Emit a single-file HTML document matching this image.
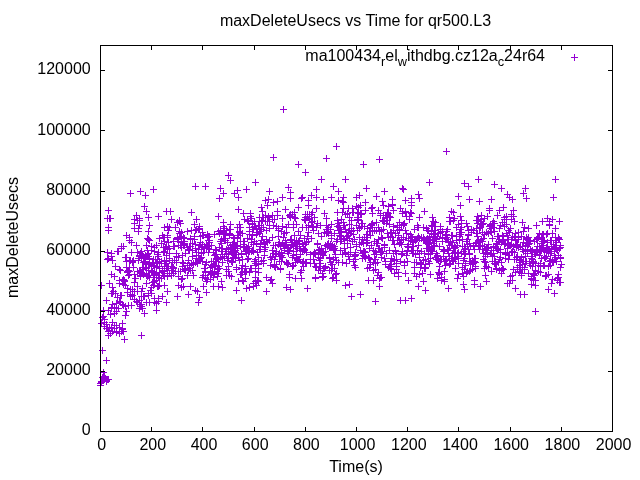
<!DOCTYPE html><html><head><meta charset="utf-8"><title>plot</title><style>html,body{margin:0;padding:0;background:#fff}body{width:640px;height:480px;overflow:hidden}</style></head><body><svg width="640" height="480" viewBox="0 0 640 480" style="display:block">
<rect width="640" height="480" fill="#fff"/>
<path d="M192.0 186.5h7M195.5 183.0v7M202.0 186.5h7M205.5 183.0v7M225.0 175.5h7M228.5 172.0v7M227.0 180.5h7M230.5 177.0v7M217.0 188.5h7M220.5 185.0v7M220.0 193.5h7M223.5 190.0v7M216.0 198.5h7M219.5 195.0v7M231.0 193.5h7M234.5 190.0v7M234.0 190.5h7M237.5 187.0v7M235.0 197.5h7M238.5 194.0v7M243.0 189.5h7M246.5 186.0v7M252.0 182.5h7M255.5 179.0v7M280.0 109.5h7M283.5 106.0v7M333.0 146.5h7M336.5 143.0v7M270.0 157.5h7M273.5 154.0v7M323.0 158.5h7M326.5 155.0v7M376.0 159.5h7M379.5 156.0v7M360.0 164.5h7M363.5 161.0v7M295.0 164.5h7M298.5 161.0v7M302.0 172.5h7M305.5 169.0v7M318.0 179.5h7M321.5 176.0v7M342.0 179.5h7M345.5 176.0v7M285.0 187.5h7M288.5 184.0v7M330.0 186.5h7M333.5 183.0v7M363.0 188.5h7M366.5 185.0v7M399.0 188.5h7M402.5 185.0v7M400.0 189.5h7M403.5 186.0v7M266.0 191.5h7M269.5 188.0v7M287.0 192.5h7M290.5 189.0v7M313.0 189.5h7M316.5 186.0v7M335.0 191.5h7M338.5 188.0v7M381.0 191.5h7M384.5 188.0v7M279.0 197.5h7M282.5 194.0v7M287.0 198.5h7M290.5 195.0v7M299.0 197.5h7M302.5 194.0v7M298.0 198.5h7M301.5 195.0v7M308.0 195.5h7M311.5 192.0v7M313.0 197.5h7M316.5 194.0v7M328.0 197.5h7M331.5 194.0v7M340.0 197.5h7M343.5 194.0v7M353.0 197.5h7M356.5 194.0v7M356.0 195.5h7M359.5 192.0v7M373.0 196.5h7M376.5 193.0v7M320.0 199.5h7M323.5 196.0v7M389.0 199.5h7M392.5 196.0v7M408.0 198.5h7M411.5 195.0v7M265.0 199.5h7M268.5 196.0v7M443.0 151.5h7M446.5 148.0v7M426.0 182.5h7M429.5 179.0v7M461.0 183.5h7M464.5 180.0v7M465.0 186.5h7M468.5 183.0v7M475.0 179.5h7M478.5 176.0v7M491.0 184.5h7M494.5 181.0v7M498.0 188.5h7M501.5 185.0v7M522.0 188.5h7M525.5 185.0v7M552.0 179.5h7M555.5 176.0v7M415.0 194.5h7M418.5 191.0v7M455.0 196.5h7M458.5 193.0v7M504.0 194.5h7M507.5 191.0v7M506.0 197.5h7M509.5 194.0v7M509.0 199.5h7M512.5 196.0v7M520.0 193.5h7M523.5 190.0v7M550.0 197.5h7M553.5 194.0v7M416.0 198.5h7M419.5 195.0v7M466.0 199.5h7M469.5 196.0v7M488.0 199.5h7M491.5 196.0v7M523.0 198.5h7M526.5 195.0v7M263.0 291.5h7M266.5 288.0v7M283.0 287.5h7M286.5 284.0v7M287.0 289.5h7M290.5 286.0v7M304.0 288.5h7M307.5 285.0v7M269.0 283.5h7M272.5 280.0v7M255.0 281.5h7M258.5 278.0v7M253.0 285.5h7M256.5 282.0v7M342.0 285.5h7M345.5 282.0v7M346.0 284.5h7M349.5 281.0v7M348.0 296.5h7M351.5 293.0v7M357.0 294.5h7M360.5 291.0v7M372.0 301.5h7M375.5 298.0v7M376.0 286.5h7M379.5 283.0v7M397.0 300.5h7M400.5 297.0v7M402.0 300.5h7M405.5 297.0v7M408.0 298.5h7M411.5 295.0v7M532.0 311.5h7M535.5 308.0v7M517.0 294.5h7M520.5 291.0v7M521.0 294.5h7M524.5 291.0v7M551.0 293.5h7M554.5 290.0v7M545.0 289.5h7M548.5 286.0v7M422.0 290.5h7M425.5 287.0v7M445.0 288.5h7M448.5 285.0v7M461.0 289.5h7M464.5 286.0v7M415.0 286.5h7M418.5 283.0v7M420.0 281.5h7M423.5 278.0v7M460.0 284.5h7M463.5 281.0v7M471.0 284.5h7M474.5 281.0v7M477.0 286.5h7M480.5 283.0v7M483.0 281.5h7M486.5 278.0v7M512.0 288.5h7M515.5 285.0v7M528.0 284.5h7M531.5 281.0v7M532.0 285.5h7M535.5 282.0v7M548.0 283.5h7M551.5 280.0v7M556.0 282.5h7M559.5 279.0v7M557.0 282.5h7M560.5 279.0v7M504.0 283.5h7M507.5 280.0v7M506.0 283.5h7M509.5 280.0v7M441.0 281.5h7M444.5 278.0v7M174.0 296.5h7M177.5 293.0v7M185.0 294.5h7M188.5 291.0v7M195.0 302.5h7M198.5 299.0v7M196.0 297.5h7M199.5 294.0v7M194.0 291.5h7M197.5 288.0v7M203.0 292.5h7M206.5 289.0v7M238.0 300.5h7M241.5 297.0v7M175.0 285.5h7M178.5 282.0v7M180.0 286.5h7M183.5 283.0v7M210.0 286.5h7M213.5 283.0v7M215.0 286.5h7M218.5 283.0v7M219.0 287.5h7M222.5 284.0v7M243.0 288.5h7M246.5 285.0v7M240.0 281.5h7M243.5 278.0v7M250.0 286.5h7M253.5 283.0v7M203.0 281.5h7M206.5 278.0v7M127.0 193.5h7M130.5 190.0v7M137.0 191.5h7M140.5 188.0v7M142.0 195.5h7M145.5 192.0v7M150.0 189.5h7M153.5 186.0v7M141.0 206.5h7M144.5 203.0v7M143.0 211.5h7M146.5 208.0v7M145.0 217.5h7M148.5 214.0v7M146.0 225.5h7M149.5 222.0v7M155.0 216.5h7M158.5 213.0v7M163.0 211.5h7M166.5 208.0v7M167.0 211.5h7M170.5 208.0v7M168.0 219.5h7M171.5 216.0v7M133.0 215.5h7M136.5 212.0v7M136.0 218.5h7M139.5 215.0v7M131.0 219.5h7M134.5 216.0v7M131.0 223.5h7M134.5 220.0v7M136.0 225.5h7M139.5 222.0v7M131.0 228.5h7M134.5 225.0v7M135.0 228.5h7M138.5 225.0v7M105.0 210.5h7M108.5 207.0v7M104.0 218.5h7M107.5 215.0v7M106.0 218.5h7M109.5 215.0v7M107.0 218.5h7M110.5 215.0v7M105.0 227.5h7M108.5 224.0v7M161.0 227.5h7M164.5 224.0v7M164.0 226.5h7M167.5 223.0v7M166.0 227.5h7M169.5 224.0v7M172.0 227.5h7M175.5 224.0v7M136.0 220.5h7M139.5 217.0v7M134.0 220.5h7M137.5 217.0v7M123.0 235.5h7M126.5 232.0v7M126.0 237.5h7M129.5 234.0v7M126.0 240.5h7M129.5 237.0v7M133.0 245.5h7M136.5 242.0v7M120.0 246.5h7M123.5 243.0v7M118.0 248.5h7M121.5 245.0v7M115.0 251.5h7M118.5 248.0v7M108.0 253.5h7M111.5 250.0v7M104.0 259.5h7M107.5 256.0v7M108.0 256.5h7M111.5 253.0v7M109.0 260.5h7M112.5 257.0v7M128.0 252.5h7M131.5 249.0v7M134.0 252.5h7M137.5 249.0v7M122.0 257.5h7M125.5 254.0v7M123.0 261.5h7M126.5 258.0v7M126.0 260.5h7M129.5 257.0v7M129.0 262.5h7M132.5 259.0v7M130.0 260.5h7M133.5 257.0v7M136.0 256.5h7M139.5 253.0v7M142.0 255.5h7M145.5 252.0v7M143.0 256.5h7M146.5 253.0v7M112.0 266.5h7M115.5 263.0v7M117.0 270.5h7M120.5 267.0v7M123.0 267.5h7M126.5 264.0v7M126.0 267.5h7M129.5 264.0v7M126.0 271.5h7M129.5 268.0v7M130.0 267.5h7M133.5 264.0v7M126.0 274.5h7M129.5 271.0v7M134.0 271.5h7M137.5 268.0v7M108.0 274.5h7M111.5 271.0v7M111.0 276.5h7M114.5 273.0v7M116.0 280.5h7M119.5 277.0v7M119.0 280.5h7M122.5 277.0v7M121.0 281.5h7M124.5 278.0v7M116.0 283.5h7M119.5 280.0v7M122.0 285.5h7M125.5 282.0v7M106.0 283.5h7M109.5 280.0v7M109.0 287.5h7M112.5 284.0v7M98.0 285.5h7M101.5 282.0v7M124.0 288.5h7M127.5 285.0v7M132.0 278.5h7M135.5 275.0v7M131.0 282.5h7M134.5 279.0v7M134.0 286.5h7M137.5 283.0v7M139.0 288.5h7M142.5 285.0v7M144.0 238.5h7M147.5 235.0v7M146.0 240.5h7M149.5 237.0v7M143.0 245.5h7M146.5 242.0v7M148.0 246.5h7M151.5 243.0v7M151.0 247.5h7M154.5 244.0v7M153.0 245.5h7M156.5 242.0v7M159.0 235.5h7M162.5 232.0v7M161.0 237.5h7M164.5 234.0v7M161.0 241.5h7M164.5 238.0v7M164.0 235.5h7M167.5 232.0v7M158.0 243.5h7M161.5 240.0v7M163.0 246.5h7M166.5 243.0v7M151.0 251.5h7M154.5 248.0v7M155.0 252.5h7M158.5 249.0v7M161.0 251.5h7M164.5 248.0v7M166.0 248.5h7M169.5 245.0v7M170.0 241.5h7M173.5 238.0v7M171.0 246.5h7M174.5 243.0v7M145.0 264.5h7M148.5 261.0v7M148.0 266.5h7M151.5 263.0v7M150.0 265.5h7M153.5 262.0v7M143.0 267.5h7M146.5 264.0v7M145.0 270.5h7M148.5 267.0v7M149.0 271.5h7M152.5 268.0v7M153.0 267.5h7M156.5 264.0v7M156.0 266.5h7M159.5 263.0v7M154.0 262.5h7M157.5 259.0v7M158.0 261.5h7M161.5 258.0v7M163.0 261.5h7M166.5 258.0v7M166.0 260.5h7M169.5 257.0v7M169.0 262.5h7M172.5 259.0v7M165.0 266.5h7M168.5 263.0v7M163.0 268.5h7M166.5 265.0v7M168.0 270.5h7M171.5 267.0v7M170.0 267.5h7M173.5 264.0v7M159.0 270.5h7M162.5 267.0v7M156.0 272.5h7M159.5 269.0v7M153.0 273.5h7M156.5 270.0v7M150.0 275.5h7M153.5 272.0v7M143.0 273.5h7M146.5 270.0v7M155.0 277.5h7M158.5 274.0v7M158.0 278.5h7M161.5 275.0v7M153.0 280.5h7M156.5 277.0v7M149.0 282.5h7M152.5 279.0v7M150.0 285.5h7M153.5 282.0v7M161.0 285.5h7M164.5 282.0v7M155.0 286.5h7M158.5 283.0v7M148.0 287.5h7M151.5 284.0v7M160.0 275.5h7M163.5 272.0v7M166.0 273.5h7M169.5 270.0v7M170.0 273.5h7M173.5 270.0v7M135.0 231.5h7M138.5 228.0v7M145.0 231.5h7M148.5 228.0v7M105.0 230.5h7M108.5 227.0v7M165.0 230.5h7M168.5 227.0v7M100.0 316.5h7M103.5 313.0v7M101.0 319.5h7M104.5 316.0v7M98.0 323.5h7M101.5 320.0v7M101.0 322.5h7M104.5 319.0v7M103.0 324.5h7M106.5 321.0v7M101.0 326.5h7M104.5 323.0v7M103.0 328.5h7M106.5 325.0v7M105.0 331.5h7M108.5 328.0v7M105.0 335.5h7M108.5 332.0v7M107.0 333.5h7M110.5 330.0v7M108.0 327.5h7M111.5 324.0v7M111.0 325.5h7M114.5 322.0v7M111.0 328.5h7M114.5 325.0v7M113.0 332.5h7M116.5 329.0v7M116.0 327.5h7M119.5 324.0v7M116.0 331.5h7M119.5 328.0v7M119.0 323.5h7M122.5 320.0v7M119.0 328.5h7M122.5 325.0v7M118.0 331.5h7M121.5 328.0v7M109.0 331.5h7M112.5 328.0v7M121.0 339.5h7M124.5 336.0v7M138.0 335.5h7M141.5 332.0v7M99.0 350.5h7M102.5 347.0v7M103.0 300.5h7M106.5 297.0v7M100.0 310.5h7M103.5 307.0v7M107.0 314.5h7M110.5 311.0v7M111.0 313.5h7M114.5 310.0v7M122.0 315.5h7M125.5 312.0v7M123.0 311.5h7M126.5 308.0v7M109.0 304.5h7M112.5 301.0v7M111.0 307.5h7M114.5 304.0v7M115.0 308.5h7M118.5 305.0v7M113.0 303.5h7M116.5 300.0v7M116.0 301.5h7M119.5 298.0v7M119.0 304.5h7M122.5 301.0v7M122.0 306.5h7M125.5 303.0v7M125.0 305.5h7M128.5 302.0v7M128.0 305.5h7M131.5 302.0v7M114.0 297.5h7M117.5 294.0v7M118.0 295.5h7M121.5 292.0v7M109.0 293.5h7M112.5 290.0v7M110.0 291.5h7M113.5 288.0v7M108.0 293.5h7M111.5 290.0v7M124.0 292.5h7M127.5 289.0v7M127.0 294.5h7M130.5 291.0v7M129.0 295.5h7M132.5 292.0v7M134.0 302.5h7M137.5 299.0v7M136.0 300.5h7M139.5 297.0v7M138.0 304.5h7M141.5 301.0v7M136.0 308.5h7M139.5 305.0v7M139.0 308.5h7M142.5 305.0v7M141.0 313.5h7M144.5 310.0v7M138.0 296.5h7M141.5 293.0v7M141.0 296.5h7M144.5 293.0v7M145.0 295.5h7M148.5 292.0v7M148.0 293.5h7M151.5 290.0v7M146.0 302.5h7M149.5 299.0v7M151.0 298.5h7M154.5 295.0v7M153.0 303.5h7M156.5 300.0v7M155.0 301.5h7M158.5 298.0v7M153.0 310.5h7M156.5 307.0v7M159.0 296.5h7M162.5 293.0v7M163.0 302.5h7M166.5 299.0v7M164.0 291.5h7M167.5 288.0v7M134.0 291.5h7M137.5 288.0v7M138.0 291.5h7M141.5 288.0v7M131.0 291.5h7M134.5 288.0v7M100.0 372.5h7M103.5 369.0v7M101.0 376.5h7M104.5 373.0v7M102.0 378.5h7M105.5 375.0v7M104.0 379.5h7M107.5 376.0v7M105.0 379.5h7M108.5 376.0v7M100.0 380.5h7M103.5 377.0v7M98.0 382.5h7M101.5 379.0v7M97.0 383.5h7M100.5 380.0v7M97.0 385.5h7M100.5 382.0v7M101.0 378.5h7M104.5 375.0v7M103.0 380.5h7M106.5 377.0v7M100.0 377.5h7M103.5 374.0v7M103.0 360.5h7M106.5 357.0v7M128.0 242.5h7M131.5 239.0v7M118.0 246.5h7M121.5 243.0v7M114.0 251.5h7M117.5 248.0v7M108.0 253.5h7M111.5 250.0v7M105.0 258.5h7M108.5 255.0v7M104.0 252.5h7M107.5 249.0v7M123.0 257.5h7M126.5 254.0v7M127.0 260.5h7M130.5 257.0v7M129.0 261.5h7M132.5 258.0v7M116.0 269.5h7M119.5 266.0v7M124.0 271.5h7M127.5 268.0v7M125.0 270.5h7M128.5 267.0v7M125.0 275.5h7M128.5 272.0v7M124.0 272.5h7M127.5 269.0v7M120.0 279.5h7M123.5 276.0v7M121.0 280.5h7M124.5 277.0v7M120.0 284.5h7M123.5 281.0v7M131.0 274.5h7M134.5 271.0v7M143.0 283.5h7M146.5 280.0v7M145.0 239.5h7M148.5 236.0v7M156.0 238.5h7M159.5 235.0v7M160.0 237.5h7M163.5 234.0v7M165.0 242.5h7M168.5 239.0v7M164.0 237.5h7M167.5 234.0v7M160.0 247.5h7M163.5 244.0v7M164.0 249.5h7M167.5 246.0v7M151.0 266.5h7M154.5 263.0v7M139.0 267.5h7M142.5 264.0v7M148.0 270.5h7M151.5 267.0v7M143.0 268.5h7M146.5 265.0v7M166.0 258.5h7M169.5 255.0v7M164.0 266.5h7M167.5 263.0v7M169.0 270.5h7M172.5 267.0v7M170.0 268.5h7M173.5 265.0v7M159.0 270.5h7M162.5 267.0v7M161.0 273.5h7M164.5 270.0v7M150.0 277.5h7M153.5 274.0v7M146.0 277.5h7M149.5 274.0v7M156.0 278.5h7M159.5 275.0v7M151.0 281.5h7M154.5 278.0v7M156.0 285.5h7M159.5 282.0v7M154.0 286.5h7M157.5 283.0v7M99.0 317.5h7M102.5 314.0v7M104.0 328.5h7M107.5 325.0v7M106.0 327.5h7M109.5 324.0v7M113.0 325.5h7M116.5 322.0v7M109.0 322.5h7M112.5 319.0v7M119.0 329.5h7M122.5 326.0v7M116.0 333.5h7M119.5 330.0v7M120.0 331.5h7M123.5 328.0v7M105.0 310.5h7M108.5 307.0v7M108.0 308.5h7M111.5 305.0v7M113.0 311.5h7M116.5 308.0v7M117.0 302.5h7M120.5 299.0v7M108.0 307.5h7M111.5 304.0v7M120.0 305.5h7M123.5 302.0v7M131.0 299.5h7M134.5 296.0v7M117.0 295.5h7M120.5 292.0v7M112.0 293.5h7M115.5 290.0v7M127.0 289.5h7M130.5 286.0v7M127.0 296.5h7M130.5 293.0v7M127.0 294.5h7M130.5 291.0v7M137.0 306.5h7M140.5 303.0v7M133.0 301.5h7M136.5 298.0v7M138.0 306.5h7M141.5 303.0v7M140.0 296.5h7M143.5 293.0v7M145.0 293.5h7M148.5 290.0v7M147.0 290.5h7M150.5 287.0v7M143.0 302.5h7M146.5 299.0v7M151.0 302.5h7M154.5 299.0v7M155.0 298.5h7M158.5 295.0v7M129.0 289.5h7M132.5 286.0v7M99.0 377.5h7M102.5 374.0v7M98.0 381.5h7M101.5 378.0v7M103.0 380.5h7M106.5 377.0v7M103.0 381.5h7M106.5 378.0v7M164.0 273.5h7M167.5 270.0v7M140.0 269.5h7M143.5 266.0v7M160.0 252.5h7M163.5 249.0v7M168.0 275.5h7M171.5 272.0v7M143.0 275.5h7M146.5 272.0v7M150.0 263.5h7M153.5 260.0v7M172.0 271.5h7M175.5 268.0v7M141.0 261.5h7M144.5 258.0v7M154.0 259.5h7M157.5 256.0v7M142.0 258.5h7M145.5 255.0v7M162.0 247.5h7M165.5 244.0v7M156.0 261.5h7M159.5 258.0v7M135.0 258.5h7M138.5 255.0v7M158.0 263.5h7M161.5 260.0v7M137.0 276.5h7M140.5 273.0v7M164.0 276.5h7M167.5 273.0v7M138.0 257.5h7M141.5 254.0v7M136.0 271.5h7M139.5 268.0v7M145.0 253.5h7M148.5 250.0v7M151.0 274.5h7M154.5 271.0v7M166.0 253.5h7M169.5 250.0v7M140.0 274.5h7M143.5 271.0v7M156.0 268.5h7M159.5 265.0v7M138.0 251.5h7M141.5 248.0v7M161.0 260.5h7M164.5 257.0v7M137.0 275.5h7M140.5 272.0v7M159.0 271.5h7M162.5 268.0v7M138.0 273.5h7M141.5 270.0v7M137.0 273.5h7M140.5 270.0v7M152.0 259.5h7M155.5 256.0v7M156.0 275.5h7M159.5 272.0v7M145.0 253.5h7M148.5 250.0v7M155.0 256.5h7M158.5 253.0v7M139.0 254.5h7M142.5 251.0v7M136.0 255.5h7M139.5 252.0v7M146.0 258.5h7M149.5 255.0v7M163.0 255.5h7M166.5 252.0v7M154.0 254.5h7M157.5 251.0v7M148.0 250.5h7M151.5 247.0v7M144.0 250.5h7M147.5 247.0v7M162.0 263.5h7M165.5 260.0v7M142.0 262.5h7M145.5 259.0v7M170.0 246.5h7M173.5 243.0v7M166.0 258.5h7M169.5 255.0v7M153.0 272.5h7M156.5 269.0v7M149.0 263.5h7M152.5 260.0v7M161.0 276.5h7M164.5 273.0v7M148.0 272.5h7M151.5 269.0v7M161.0 266.5h7M164.5 263.0v7M150.0 259.5h7M153.5 256.0v7M137.0 253.5h7M140.5 250.0v7M137.0 270.5h7M140.5 267.0v7M144.0 254.5h7M147.5 251.0v7M138.0 272.5h7M141.5 269.0v7M168.0 266.5h7M171.5 263.0v7M145.0 256.5h7M148.5 253.0v7M146.0 262.5h7M149.5 259.0v7M140.0 262.5h7M143.5 259.0v7M145.0 275.5h7M148.5 272.0v7M171.0 260.5h7M174.5 257.0v7M144.0 276.5h7M147.5 273.0v7M146.0 259.5h7M149.5 256.0v7M135.0 260.5h7M138.5 257.0v7M153.0 263.5h7M156.5 260.0v7M142.0 263.5h7M145.5 260.0v7M173.0 262.5h7M176.5 259.0v7M173.0 256.5h7M176.5 253.0v7M173.0 256.5h7M176.5 253.0v7M173.0 253.5h7M176.5 250.0v7M174.0 239.5h7M177.5 236.0v7M174.0 237.5h7M177.5 234.0v7M174.0 238.5h7M177.5 235.0v7M174.0 222.5h7M177.5 219.0v7M175.0 241.5h7M178.5 238.0v7M175.0 245.5h7M178.5 242.0v7M175.0 276.5h7M178.5 273.0v7M175.0 271.5h7M178.5 268.0v7M175.0 257.5h7M178.5 254.0v7M176.0 231.5h7M179.5 228.0v7M176.0 220.5h7M179.5 217.0v7M176.0 233.5h7M179.5 230.0v7M176.0 221.5h7M179.5 218.0v7M177.0 223.5h7M180.5 220.0v7M177.0 236.5h7M180.5 233.0v7M177.0 245.5h7M180.5 242.0v7M177.0 271.5h7M180.5 268.0v7M178.0 279.5h7M181.5 276.0v7M178.0 247.5h7M181.5 244.0v7M178.0 236.5h7M181.5 233.0v7M178.0 287.5h7M181.5 284.0v7M178.0 242.5h7M181.5 239.0v7M178.0 232.5h7M181.5 229.0v7M179.0 262.5h7M182.5 259.0v7M179.0 266.5h7M182.5 263.0v7M179.0 255.5h7M182.5 252.0v7M179.0 278.5h7M182.5 275.0v7M180.0 263.5h7M183.5 260.0v7M180.0 237.5h7M183.5 234.0v7M180.0 245.5h7M183.5 242.0v7M181.0 244.5h7M184.5 241.0v7M181.0 243.5h7M184.5 240.0v7M181.0 245.5h7M184.5 242.0v7M181.0 238.5h7M184.5 235.0v7M181.0 269.5h7M184.5 266.0v7M181.0 241.5h7M184.5 238.0v7M182.0 268.5h7M185.5 265.0v7M182.0 253.5h7M185.5 250.0v7M182.0 270.5h7M185.5 267.0v7M184.0 265.5h7M187.5 262.0v7M184.0 275.5h7M187.5 272.0v7M184.0 231.5h7M187.5 228.0v7M184.0 247.5h7M187.5 244.0v7M185.0 260.5h7M188.5 257.0v7M185.0 249.5h7M188.5 246.0v7M185.0 270.5h7M188.5 267.0v7M186.0 250.5h7M189.5 247.0v7M186.0 265.5h7M189.5 262.0v7M186.0 268.5h7M189.5 265.0v7M186.0 246.5h7M189.5 243.0v7M187.0 238.5h7M190.5 235.0v7M187.0 246.5h7M190.5 243.0v7M187.0 239.5h7M190.5 236.0v7M187.0 286.5h7M190.5 283.0v7M187.0 270.5h7M190.5 267.0v7M188.0 263.5h7M191.5 260.0v7M188.0 230.5h7M191.5 227.0v7M188.0 212.5h7M191.5 209.0v7M189.0 256.5h7M192.5 253.0v7M189.0 243.5h7M192.5 240.0v7M189.0 270.5h7M192.5 267.0v7M189.0 250.5h7M192.5 247.0v7M189.0 243.5h7M192.5 240.0v7M190.0 264.5h7M193.5 261.0v7M190.0 275.5h7M193.5 272.0v7M190.0 263.5h7M193.5 260.0v7M191.0 236.5h7M194.5 233.0v7M191.0 224.5h7M194.5 221.0v7M191.0 236.5h7M194.5 233.0v7M191.0 239.5h7M194.5 236.0v7M192.0 244.5h7M195.5 241.0v7M192.0 230.5h7M195.5 227.0v7M192.0 290.5h7M195.5 287.0v7M192.0 248.5h7M195.5 245.0v7M192.0 262.5h7M195.5 259.0v7M193.0 252.5h7M196.5 249.0v7M193.0 219.5h7M196.5 216.0v7M193.0 229.5h7M196.5 226.0v7M193.0 255.5h7M196.5 252.0v7M193.0 258.5h7M196.5 255.0v7M194.0 263.5h7M197.5 260.0v7M194.0 263.5h7M197.5 260.0v7M194.0 262.5h7M197.5 259.0v7M195.0 258.5h7M198.5 255.0v7M195.0 249.5h7M198.5 246.0v7M195.0 255.5h7M198.5 252.0v7M195.0 229.5h7M198.5 226.0v7M196.0 228.5h7M199.5 225.0v7M196.0 226.5h7M199.5 223.0v7M196.0 245.5h7M199.5 242.0v7M196.0 259.5h7M199.5 256.0v7M196.0 259.5h7M199.5 256.0v7M197.0 236.5h7M200.5 233.0v7M197.0 242.5h7M200.5 239.0v7M197.0 244.5h7M200.5 241.0v7M197.0 258.5h7M200.5 255.0v7M198.0 257.5h7M201.5 254.0v7M198.0 257.5h7M201.5 254.0v7M198.0 253.5h7M201.5 250.0v7M199.0 235.5h7M202.5 232.0v7M199.0 277.5h7M202.5 274.0v7M199.0 244.5h7M202.5 241.0v7M199.0 261.5h7M202.5 258.0v7M199.0 232.5h7M202.5 229.0v7M199.0 246.5h7M202.5 243.0v7M200.0 252.5h7M203.5 249.0v7M200.0 275.5h7M203.5 272.0v7M200.0 252.5h7M203.5 249.0v7M200.0 235.5h7M203.5 232.0v7M200.0 286.5h7M203.5 283.0v7M201.0 246.5h7M204.5 243.0v7M201.0 268.5h7M204.5 265.0v7M201.0 247.5h7M204.5 244.0v7M201.0 248.5h7M204.5 245.0v7M202.0 271.5h7M205.5 268.0v7M202.0 277.5h7M205.5 274.0v7M202.0 272.5h7M205.5 269.0v7M202.0 264.5h7M205.5 261.0v7M202.0 275.5h7M205.5 272.0v7M202.0 278.5h7M205.5 275.0v7M203.0 262.5h7M206.5 259.0v7M203.0 244.5h7M206.5 241.0v7M203.0 248.5h7M206.5 245.0v7M204.0 245.5h7M207.5 242.0v7M204.0 279.5h7M207.5 276.0v7M204.0 237.5h7M207.5 234.0v7M204.0 234.5h7M207.5 231.0v7M204.0 246.5h7M207.5 243.0v7M205.0 248.5h7M208.5 245.0v7M205.0 252.5h7M208.5 249.0v7M205.0 246.5h7M208.5 243.0v7M205.0 240.5h7M208.5 237.0v7M205.0 236.5h7M208.5 233.0v7M206.0 242.5h7M209.5 239.0v7M206.0 249.5h7M209.5 246.0v7M206.0 240.5h7M209.5 237.0v7M206.0 236.5h7M209.5 233.0v7M207.0 279.5h7M210.5 276.0v7M207.0 267.5h7M210.5 264.0v7M207.0 274.5h7M210.5 271.0v7M207.0 271.5h7M210.5 268.0v7M208.0 273.5h7M211.5 270.0v7M208.0 265.5h7M211.5 262.0v7M208.0 261.5h7M211.5 258.0v7M208.0 245.5h7M211.5 242.0v7M209.0 266.5h7M212.5 263.0v7M209.0 272.5h7M212.5 269.0v7M210.0 277.5h7M213.5 274.0v7M210.0 252.5h7M213.5 249.0v7M210.0 261.5h7M213.5 258.0v7M210.0 274.5h7M213.5 271.0v7M211.0 234.5h7M214.5 231.0v7M211.0 272.5h7M214.5 269.0v7M211.0 265.5h7M214.5 262.0v7M211.0 271.5h7M214.5 268.0v7M211.0 255.5h7M214.5 252.0v7M212.0 254.5h7M215.5 251.0v7M212.0 261.5h7M215.5 258.0v7M212.0 249.5h7M215.5 246.0v7M212.0 266.5h7M215.5 263.0v7M213.0 261.5h7M216.5 258.0v7M213.0 259.5h7M216.5 256.0v7M213.0 254.5h7M216.5 251.0v7M213.0 250.5h7M216.5 247.0v7M214.0 276.5h7M217.5 273.0v7M214.0 257.5h7M217.5 254.0v7M214.0 269.5h7M217.5 266.0v7M215.0 266.5h7M218.5 263.0v7M215.0 259.5h7M218.5 256.0v7M215.0 231.5h7M218.5 228.0v7M215.0 273.5h7M218.5 270.0v7M215.0 216.5h7M218.5 213.0v7M216.0 268.5h7M219.5 265.0v7M216.0 247.5h7M219.5 244.0v7M216.0 233.5h7M219.5 230.0v7M216.0 247.5h7M219.5 244.0v7M217.0 257.5h7M220.5 254.0v7M217.0 230.5h7M220.5 227.0v7M217.0 230.5h7M220.5 227.0v7M217.0 231.5h7M220.5 228.0v7M217.0 241.5h7M220.5 238.0v7M218.0 239.5h7M221.5 236.0v7M218.0 243.5h7M221.5 240.0v7M218.0 281.5h7M221.5 278.0v7M218.0 251.5h7M221.5 248.0v7M219.0 262.5h7M222.5 259.0v7M219.0 254.5h7M222.5 251.0v7M219.0 258.5h7M222.5 255.0v7M219.0 248.5h7M222.5 245.0v7M220.0 234.5h7M223.5 231.0v7M220.0 226.5h7M223.5 223.0v7M220.0 222.5h7M223.5 219.0v7M220.0 232.5h7M223.5 229.0v7M220.0 234.5h7M223.5 231.0v7M221.0 228.5h7M224.5 225.0v7M221.0 233.5h7M224.5 230.0v7M221.0 240.5h7M224.5 237.0v7M221.0 256.5h7M224.5 253.0v7M222.0 240.5h7M225.5 237.0v7M222.0 238.5h7M225.5 235.0v7M222.0 233.5h7M225.5 230.0v7M222.0 240.5h7M225.5 237.0v7M222.0 251.5h7M225.5 248.0v7M223.0 249.5h7M226.5 246.0v7M223.0 269.5h7M226.5 266.0v7M223.0 275.5h7M226.5 272.0v7M223.0 230.5h7M226.5 227.0v7M223.0 254.5h7M226.5 251.0v7M224.0 260.5h7M227.5 257.0v7M224.0 242.5h7M227.5 239.0v7M225.0 248.5h7M228.5 245.0v7M225.0 266.5h7M228.5 263.0v7M225.0 271.5h7M228.5 268.0v7M225.0 253.5h7M228.5 250.0v7M225.0 258.5h7M228.5 255.0v7M226.0 235.5h7M229.5 232.0v7M226.0 229.5h7M229.5 226.0v7M226.0 275.5h7M229.5 272.0v7M226.0 234.5h7M229.5 231.0v7M226.0 233.5h7M229.5 230.0v7M227.0 245.5h7M230.5 242.0v7M227.0 229.5h7M230.5 226.0v7M227.0 224.5h7M230.5 221.0v7M227.0 247.5h7M230.5 244.0v7M228.0 261.5h7M231.5 258.0v7M228.0 276.5h7M231.5 273.0v7M228.0 247.5h7M231.5 244.0v7M228.0 252.5h7M231.5 249.0v7M229.0 244.5h7M232.5 241.0v7M229.0 262.5h7M232.5 259.0v7M229.0 254.5h7M232.5 251.0v7M229.0 251.5h7M232.5 248.0v7M230.0 251.5h7M233.5 248.0v7M230.0 257.5h7M233.5 254.0v7M230.0 237.5h7M233.5 234.0v7M230.0 244.5h7M233.5 241.0v7M231.0 247.5h7M234.5 244.0v7M231.0 254.5h7M234.5 251.0v7M231.0 246.5h7M234.5 243.0v7M231.0 238.5h7M234.5 235.0v7M231.0 242.5h7M234.5 239.0v7M232.0 252.5h7M235.5 249.0v7M232.0 246.5h7M235.5 243.0v7M232.0 258.5h7M235.5 255.0v7M232.0 250.5h7M235.5 247.0v7M233.0 267.5h7M236.5 264.0v7M233.0 290.5h7M236.5 287.0v7M233.0 254.5h7M236.5 251.0v7M233.0 269.5h7M236.5 266.0v7M233.0 245.5h7M236.5 242.0v7M234.0 248.5h7M237.5 245.0v7M234.0 237.5h7M237.5 234.0v7M234.0 246.5h7M237.5 243.0v7M234.0 238.5h7M237.5 235.0v7M234.0 227.5h7M237.5 224.0v7M235.0 235.5h7M238.5 232.0v7M235.0 235.5h7M238.5 232.0v7M235.0 281.5h7M238.5 278.0v7M235.0 209.5h7M238.5 206.0v7M235.0 257.5h7M238.5 254.0v7M236.0 260.5h7M239.5 257.0v7M236.0 231.5h7M239.5 228.0v7M236.0 232.5h7M239.5 229.0v7M236.0 224.5h7M239.5 221.0v7M237.0 227.5h7M240.5 224.0v7M237.0 233.5h7M240.5 230.0v7M237.0 241.5h7M240.5 238.0v7M237.0 246.5h7M240.5 243.0v7M237.0 274.5h7M240.5 271.0v7M238.0 268.5h7M241.5 265.0v7M238.0 274.5h7M241.5 271.0v7M238.0 254.5h7M241.5 251.0v7M238.0 253.5h7M241.5 250.0v7M239.0 272.5h7M242.5 269.0v7M239.0 265.5h7M242.5 262.0v7M239.0 259.5h7M242.5 256.0v7M239.0 280.5h7M242.5 277.0v7M239.0 233.5h7M242.5 230.0v7M240.0 247.5h7M243.5 244.0v7M240.0 244.5h7M243.5 241.0v7M240.0 241.5h7M243.5 238.0v7M240.0 213.5h7M243.5 210.0v7M241.0 219.5h7M244.5 216.0v7M241.0 247.5h7M244.5 244.0v7M241.0 271.5h7M244.5 268.0v7M241.0 241.5h7M244.5 238.0v7M242.0 266.5h7M245.5 263.0v7M242.0 251.5h7M245.5 248.0v7M242.0 278.5h7M245.5 275.0v7M242.0 272.5h7M245.5 269.0v7M243.0 253.5h7M246.5 250.0v7M243.0 247.5h7M246.5 244.0v7M243.0 250.5h7M246.5 247.0v7M243.0 271.5h7M246.5 268.0v7M243.0 248.5h7M246.5 245.0v7M244.0 248.5h7M247.5 245.0v7M244.0 238.5h7M247.5 235.0v7M244.0 220.5h7M247.5 217.0v7M244.0 259.5h7M247.5 256.0v7M245.0 258.5h7M248.5 255.0v7M245.0 246.5h7M248.5 243.0v7M245.0 221.5h7M248.5 218.0v7M245.0 252.5h7M248.5 249.0v7M246.0 234.5h7M249.5 231.0v7M246.0 231.5h7M249.5 228.0v7M246.0 251.5h7M249.5 248.0v7M246.0 287.5h7M249.5 284.0v7M246.0 272.5h7M249.5 269.0v7M246.0 227.5h7M249.5 224.0v7M247.0 213.5h7M250.5 210.0v7M247.0 268.5h7M250.5 265.0v7M247.0 216.5h7M250.5 213.0v7M247.0 216.5h7M250.5 213.0v7M248.0 218.5h7M251.5 215.0v7M248.0 239.5h7M251.5 236.0v7M248.0 251.5h7M251.5 248.0v7M248.0 268.5h7M251.5 265.0v7M248.0 242.5h7M251.5 239.0v7M249.0 250.5h7M252.5 247.0v7M249.0 227.5h7M252.5 224.0v7M249.0 223.5h7M252.5 220.0v7M249.0 224.5h7M252.5 221.0v7M249.0 235.5h7M252.5 232.0v7M250.0 244.5h7M253.5 241.0v7M250.0 251.5h7M253.5 248.0v7M250.0 251.5h7M253.5 248.0v7M250.0 229.5h7M253.5 226.0v7M250.0 283.5h7M253.5 280.0v7M251.0 221.5h7M254.5 218.0v7M251.0 226.5h7M254.5 223.0v7M251.0 261.5h7M254.5 258.0v7M251.0 241.5h7M254.5 238.0v7M252.0 263.5h7M255.5 260.0v7M252.0 259.5h7M255.5 256.0v7M252.0 277.5h7M255.5 274.0v7M252.0 281.5h7M255.5 278.0v7M252.0 271.5h7M255.5 268.0v7M252.0 265.5h7M255.5 262.0v7M253.0 263.5h7M256.5 260.0v7M253.0 228.5h7M256.5 225.0v7M253.0 234.5h7M256.5 231.0v7M253.0 243.5h7M256.5 240.0v7M254.0 232.5h7M257.5 229.0v7M254.0 232.5h7M257.5 229.0v7M254.0 252.5h7M257.5 249.0v7M254.0 280.5h7M257.5 277.0v7M255.0 272.5h7M258.5 269.0v7M255.0 264.5h7M258.5 261.0v7M255.0 225.5h7M258.5 222.0v7M255.0 268.5h7M258.5 265.0v7M255.0 257.5h7M258.5 254.0v7M256.0 249.5h7M259.5 246.0v7M256.0 225.5h7M259.5 222.0v7M256.0 233.5h7M259.5 230.0v7M256.0 217.5h7M259.5 214.0v7M257.0 231.5h7M260.5 228.0v7M257.0 246.5h7M260.5 243.0v7M257.0 244.5h7M260.5 241.0v7M257.0 249.5h7M260.5 246.0v7M258.0 229.5h7M261.5 226.0v7M258.0 261.5h7M261.5 258.0v7M258.0 240.5h7M261.5 237.0v7M258.0 207.5h7M261.5 204.0v7M258.0 221.5h7M261.5 218.0v7M259.0 217.5h7M262.5 214.0v7M259.0 211.5h7M262.5 208.0v7M259.0 220.5h7M262.5 217.0v7M259.0 236.5h7M262.5 233.0v7M260.0 217.5h7M263.5 214.0v7M260.0 227.5h7M263.5 224.0v7M260.0 260.5h7M263.5 257.0v7M260.0 263.5h7M263.5 260.0v7M261.0 251.5h7M264.5 248.0v7M261.0 249.5h7M264.5 246.0v7M261.0 243.5h7M264.5 240.0v7M261.0 242.5h7M264.5 239.0v7M261.0 255.5h7M264.5 252.0v7M262.0 247.5h7M265.5 244.0v7M262.0 200.5h7M265.5 197.0v7M262.0 221.5h7M265.5 218.0v7M262.0 215.5h7M265.5 212.0v7M263.0 241.5h7M266.5 238.0v7M263.0 230.5h7M266.5 227.0v7M263.0 239.5h7M266.5 236.0v7M263.0 277.5h7M266.5 274.0v7M264.0 242.5h7M267.5 239.0v7M264.0 221.5h7M267.5 218.0v7M264.0 205.5h7M267.5 202.0v7M265.0 216.5h7M268.5 213.0v7M265.0 217.5h7M268.5 214.0v7M266.0 228.5h7M269.5 225.0v7M266.0 221.5h7M269.5 218.0v7M266.0 225.5h7M269.5 222.0v7M266.0 240.5h7M269.5 237.0v7M267.0 265.5h7M270.5 262.0v7M267.0 280.5h7M270.5 277.0v7M267.0 265.5h7M270.5 262.0v7M267.0 257.5h7M270.5 254.0v7M268.0 279.5h7M271.5 276.0v7M268.0 259.5h7M271.5 256.0v7M268.0 259.5h7M271.5 256.0v7M269.0 256.5h7M272.5 253.0v7M269.0 250.5h7M272.5 247.0v7M269.0 237.5h7M272.5 234.0v7M269.0 215.5h7M272.5 212.0v7M269.0 219.5h7M272.5 216.0v7M270.0 202.5h7M273.5 199.0v7M270.0 245.5h7M273.5 242.0v7M270.0 253.5h7M273.5 250.0v7M270.0 225.5h7M273.5 222.0v7M271.0 259.5h7M274.5 256.0v7M271.0 266.5h7M274.5 263.0v7M271.0 219.5h7M274.5 216.0v7M271.0 264.5h7M274.5 261.0v7M272.0 267.5h7M275.5 264.0v7M272.0 245.5h7M275.5 242.0v7M272.0 254.5h7M275.5 251.0v7M272.0 256.5h7M275.5 253.0v7M273.0 253.5h7M276.5 250.0v7M273.0 251.5h7M276.5 248.0v7M273.0 264.5h7M276.5 261.0v7M273.0 226.5h7M276.5 223.0v7M274.0 211.5h7M277.5 208.0v7M274.0 201.5h7M277.5 198.0v7M274.0 211.5h7M277.5 208.0v7M274.0 215.5h7M277.5 212.0v7M275.0 236.5h7M278.5 233.0v7M275.0 244.5h7M278.5 241.0v7M275.0 244.5h7M278.5 241.0v7M275.0 230.5h7M278.5 227.0v7M275.0 228.5h7M278.5 225.0v7M276.0 253.5h7M279.5 250.0v7M276.0 261.5h7M279.5 258.0v7M276.0 254.5h7M279.5 251.0v7M276.0 242.5h7M279.5 239.0v7M277.0 269.5h7M280.5 266.0v7M277.0 246.5h7M280.5 243.0v7M277.0 256.5h7M280.5 253.0v7M277.0 268.5h7M280.5 265.0v7M278.0 252.5h7M281.5 249.0v7M278.0 261.5h7M281.5 258.0v7M278.0 231.5h7M281.5 228.0v7M278.0 255.5h7M281.5 252.0v7M278.0 253.5h7M281.5 250.0v7M279.0 218.5h7M282.5 215.0v7M279.0 243.5h7M282.5 240.0v7M279.0 226.5h7M282.5 223.0v7M279.0 257.5h7M282.5 254.0v7M280.0 237.5h7M283.5 234.0v7M280.0 237.5h7M283.5 234.0v7M280.0 245.5h7M283.5 242.0v7M280.0 237.5h7M283.5 234.0v7M281.0 245.5h7M284.5 242.0v7M281.0 233.5h7M284.5 230.0v7M281.0 250.5h7M284.5 247.0v7M281.0 246.5h7M284.5 243.0v7M281.0 248.5h7M284.5 245.0v7M282.0 240.5h7M285.5 237.0v7M282.0 242.5h7M285.5 239.0v7M282.0 209.5h7M285.5 206.0v7M283.0 227.5h7M286.5 224.0v7M283.0 244.5h7M286.5 241.0v7M283.0 262.5h7M286.5 259.0v7M283.0 232.5h7M286.5 229.0v7M284.0 264.5h7M287.5 261.0v7M284.0 251.5h7M287.5 248.0v7M284.0 263.5h7M287.5 260.0v7M284.0 264.5h7M287.5 261.0v7M285.0 247.5h7M288.5 244.0v7M285.0 224.5h7M288.5 221.0v7M285.0 253.5h7M288.5 250.0v7M285.0 263.5h7M288.5 260.0v7M286.0 277.5h7M289.5 274.0v7M286.0 274.5h7M289.5 271.0v7M286.0 250.5h7M289.5 247.0v7M286.0 215.5h7M289.5 212.0v7M287.0 216.5h7M290.5 213.0v7M287.0 217.5h7M290.5 214.0v7M287.0 214.5h7M290.5 211.0v7M287.0 239.5h7M290.5 236.0v7M287.0 247.5h7M290.5 244.0v7M288.0 239.5h7M291.5 236.0v7M288.0 244.5h7M291.5 241.0v7M288.0 240.5h7M291.5 237.0v7M288.0 245.5h7M291.5 242.0v7M289.0 257.5h7M292.5 254.0v7M289.0 266.5h7M292.5 263.0v7M289.0 242.5h7M292.5 239.0v7M289.0 214.5h7M292.5 211.0v7M290.0 255.5h7M293.5 252.0v7M290.0 251.5h7M293.5 248.0v7M290.0 265.5h7M293.5 262.0v7M290.0 224.5h7M293.5 221.0v7M290.0 227.5h7M293.5 224.0v7M291.0 235.5h7M294.5 232.0v7M291.0 212.5h7M294.5 209.0v7M291.0 217.5h7M294.5 214.0v7M291.0 243.5h7M294.5 240.0v7M292.0 262.5h7M295.5 259.0v7M292.0 278.5h7M295.5 275.0v7M292.0 246.5h7M295.5 243.0v7M292.0 218.5h7M295.5 215.0v7M293.0 240.5h7M296.5 237.0v7M293.0 258.5h7M296.5 255.0v7M293.0 254.5h7M296.5 251.0v7M293.0 224.5h7M296.5 221.0v7M293.0 248.5h7M296.5 245.0v7M294.0 259.5h7M297.5 256.0v7M294.0 260.5h7M297.5 257.0v7M294.0 243.5h7M297.5 240.0v7M294.0 248.5h7M297.5 245.0v7M295.0 259.5h7M298.5 256.0v7M295.0 241.5h7M298.5 238.0v7M295.0 207.5h7M298.5 204.0v7M295.0 231.5h7M298.5 228.0v7M296.0 246.5h7M299.5 243.0v7M296.0 244.5h7M299.5 241.0v7M296.0 259.5h7M299.5 256.0v7M296.0 240.5h7M299.5 237.0v7M296.0 240.5h7M299.5 237.0v7M297.0 235.5h7M300.5 232.0v7M297.0 250.5h7M300.5 247.0v7M297.0 272.5h7M300.5 269.0v7M297.0 254.5h7M300.5 251.0v7M298.0 278.5h7M301.5 275.0v7M298.0 270.5h7M301.5 267.0v7M299.0 262.5h7M302.5 259.0v7M299.0 251.5h7M302.5 248.0v7M299.0 227.5h7M302.5 224.0v7M299.0 243.5h7M302.5 240.0v7M300.0 266.5h7M303.5 263.0v7M300.0 263.5h7M303.5 260.0v7M300.0 261.5h7M303.5 258.0v7M300.0 248.5h7M303.5 245.0v7M301.0 249.5h7M304.5 246.0v7M301.0 219.5h7M304.5 216.0v7M301.0 250.5h7M304.5 247.0v7M301.0 238.5h7M304.5 235.0v7M302.0 220.5h7M305.5 217.0v7M302.0 217.5h7M305.5 214.0v7M302.0 214.5h7M305.5 211.0v7M302.0 244.5h7M305.5 241.0v7M302.0 262.5h7M305.5 259.0v7M303.0 227.5h7M306.5 224.0v7M303.0 252.5h7M306.5 249.0v7M303.0 262.5h7M306.5 259.0v7M303.0 242.5h7M306.5 239.0v7M304.0 214.5h7M307.5 211.0v7M304.0 214.5h7M307.5 211.0v7M304.0 216.5h7M307.5 213.0v7M304.0 236.5h7M307.5 233.0v7M305.0 232.5h7M308.5 229.0v7M305.0 200.5h7M308.5 197.0v7M305.0 225.5h7M308.5 222.0v7M305.0 205.5h7M308.5 202.0v7M305.0 241.5h7M308.5 238.0v7M306.0 219.5h7M309.5 216.0v7M306.0 218.5h7M309.5 215.0v7M306.0 214.5h7M309.5 211.0v7M306.0 218.5h7M309.5 215.0v7M307.0 254.5h7M310.5 251.0v7M307.0 263.5h7M310.5 260.0v7M307.0 263.5h7M310.5 260.0v7M307.0 259.5h7M310.5 256.0v7M308.0 222.5h7M311.5 219.0v7M308.0 222.5h7M311.5 219.0v7M308.0 222.5h7M311.5 219.0v7M308.0 214.5h7M311.5 211.0v7M308.0 238.5h7M311.5 235.0v7M309.0 226.5h7M312.5 223.0v7M309.0 221.5h7M312.5 218.0v7M309.0 212.5h7M312.5 209.0v7M310.0 227.5h7M313.5 224.0v7M310.0 259.5h7M313.5 256.0v7M310.0 254.5h7M313.5 251.0v7M310.0 230.5h7M313.5 227.0v7M311.0 217.5h7M314.5 214.0v7M311.0 252.5h7M314.5 249.0v7M311.0 253.5h7M314.5 250.0v7M311.0 263.5h7M314.5 260.0v7M312.0 277.5h7M315.5 274.0v7M312.0 278.5h7M315.5 275.0v7M312.0 254.5h7M315.5 251.0v7M312.0 266.5h7M315.5 263.0v7M313.0 267.5h7M316.5 264.0v7M313.0 227.5h7M316.5 224.0v7M313.0 227.5h7M316.5 224.0v7M313.0 208.5h7M316.5 205.0v7M314.0 223.5h7M317.5 220.0v7M314.0 244.5h7M317.5 241.0v7M314.0 223.5h7M317.5 220.0v7M314.0 243.5h7M317.5 240.0v7M315.0 250.5h7M318.5 247.0v7M315.0 270.5h7M318.5 267.0v7M315.0 233.5h7M318.5 230.0v7M315.0 257.5h7M318.5 254.0v7M316.0 266.5h7M319.5 263.0v7M316.0 260.5h7M319.5 257.0v7M316.0 249.5h7M319.5 246.0v7M317.0 263.5h7M320.5 260.0v7M317.0 270.5h7M320.5 267.0v7M317.0 258.5h7M320.5 255.0v7M317.0 225.5h7M320.5 222.0v7M318.0 248.5h7M321.5 245.0v7M318.0 236.5h7M321.5 233.0v7M318.0 251.5h7M321.5 248.0v7M318.0 252.5h7M321.5 249.0v7M319.0 273.5h7M322.5 270.0v7M319.0 276.5h7M322.5 273.0v7M319.0 253.5h7M322.5 250.0v7M319.0 254.5h7M322.5 251.0v7M319.0 277.5h7M322.5 274.0v7M320.0 252.5h7M323.5 249.0v7M320.0 255.5h7M323.5 252.0v7M320.0 268.5h7M323.5 265.0v7M320.0 276.5h7M323.5 273.0v7M321.0 268.5h7M324.5 265.0v7M321.0 232.5h7M324.5 229.0v7M321.0 213.5h7M324.5 210.0v7M321.0 232.5h7M324.5 229.0v7M322.0 245.5h7M325.5 242.0v7M322.0 251.5h7M325.5 248.0v7M322.0 266.5h7M325.5 263.0v7M322.0 267.5h7M325.5 264.0v7M323.0 225.5h7M326.5 222.0v7M323.0 218.5h7M326.5 215.0v7M323.0 233.5h7M326.5 230.0v7M323.0 229.5h7M326.5 226.0v7M324.0 232.5h7M327.5 229.0v7M324.0 246.5h7M327.5 243.0v7M324.0 229.5h7M327.5 226.0v7M324.0 244.5h7M327.5 241.0v7M325.0 231.5h7M328.5 228.0v7M325.0 227.5h7M328.5 224.0v7M325.0 245.5h7M328.5 242.0v7M325.0 233.5h7M328.5 230.0v7M325.0 243.5h7M328.5 240.0v7M326.0 270.5h7M329.5 267.0v7M326.0 257.5h7M329.5 254.0v7M326.0 247.5h7M329.5 244.0v7M326.0 258.5h7M329.5 255.0v7M327.0 244.5h7M330.5 241.0v7M327.0 262.5h7M330.5 259.0v7M327.0 229.5h7M330.5 226.0v7M327.0 247.5h7M330.5 244.0v7M328.0 235.5h7M331.5 232.0v7M328.0 224.5h7M331.5 221.0v7M328.0 264.5h7M331.5 261.0v7M328.0 238.5h7M331.5 235.0v7M328.0 270.5h7M331.5 267.0v7M329.0 268.5h7M332.5 265.0v7M329.0 278.5h7M332.5 275.0v7M329.0 245.5h7M332.5 242.0v7M329.0 264.5h7M332.5 261.0v7M330.0 277.5h7M333.5 274.0v7M330.0 259.5h7M333.5 256.0v7M330.0 249.5h7M333.5 246.0v7M331.0 268.5h7M334.5 265.0v7M331.0 248.5h7M334.5 245.0v7M331.0 233.5h7M334.5 230.0v7M331.0 246.5h7M334.5 243.0v7M331.0 250.5h7M334.5 247.0v7M332.0 250.5h7M335.5 247.0v7M332.0 274.5h7M335.5 271.0v7M332.0 254.5h7M335.5 251.0v7M332.0 257.5h7M335.5 254.0v7M333.0 273.5h7M336.5 270.0v7M333.0 241.5h7M336.5 238.0v7M333.0 260.5h7M336.5 257.0v7M333.0 280.5h7M336.5 277.0v7M334.0 239.5h7M337.5 236.0v7M334.0 220.5h7M337.5 217.0v7M334.0 212.5h7M337.5 209.0v7M334.0 226.5h7M337.5 223.0v7M335.0 200.5h7M338.5 197.0v7M335.0 230.5h7M338.5 227.0v7M335.0 262.5h7M338.5 259.0v7M335.0 223.5h7M338.5 220.0v7M336.0 227.5h7M339.5 224.0v7M336.0 235.5h7M339.5 232.0v7M336.0 225.5h7M339.5 222.0v7M337.0 229.5h7M340.5 226.0v7M337.0 236.5h7M340.5 233.0v7M337.0 250.5h7M340.5 247.0v7M337.0 239.5h7M340.5 236.0v7M337.0 241.5h7M340.5 238.0v7M338.0 231.5h7M341.5 228.0v7M338.0 239.5h7M341.5 236.0v7M338.0 219.5h7M341.5 216.0v7M338.0 232.5h7M341.5 229.0v7M339.0 201.5h7M342.5 198.0v7M339.0 212.5h7M342.5 209.0v7M339.0 262.5h7M342.5 259.0v7M339.0 254.5h7M342.5 251.0v7M340.0 225.5h7M343.5 222.0v7M340.0 238.5h7M343.5 235.0v7M340.0 222.5h7M343.5 219.0v7M340.0 202.5h7M343.5 199.0v7M340.0 208.5h7M343.5 205.0v7M341.0 239.5h7M344.5 236.0v7M341.0 248.5h7M344.5 245.0v7M341.0 243.5h7M344.5 240.0v7M341.0 225.5h7M344.5 222.0v7M342.0 214.5h7M345.5 211.0v7M342.0 253.5h7M345.5 250.0v7M342.0 252.5h7M345.5 249.0v7M342.0 229.5h7M345.5 226.0v7M343.0 263.5h7M346.5 260.0v7M343.0 232.5h7M346.5 229.0v7M343.0 236.5h7M346.5 233.0v7M344.0 243.5h7M347.5 240.0v7M344.0 240.5h7M347.5 237.0v7M344.0 236.5h7M347.5 233.0v7M344.0 213.5h7M347.5 210.0v7M345.0 208.5h7M348.5 205.0v7M345.0 256.5h7M348.5 253.0v7M345.0 235.5h7M348.5 232.0v7M345.0 254.5h7M348.5 251.0v7M346.0 217.5h7M349.5 214.0v7M346.0 224.5h7M349.5 221.0v7M346.0 238.5h7M349.5 235.0v7M346.0 259.5h7M349.5 256.0v7M346.0 230.5h7M349.5 227.0v7M347.0 247.5h7M350.5 244.0v7M347.0 252.5h7M350.5 249.0v7M347.0 233.5h7M350.5 230.0v7M347.0 247.5h7M350.5 244.0v7M348.0 228.5h7M351.5 225.0v7M348.0 220.5h7M351.5 217.0v7M348.0 231.5h7M351.5 228.0v7M349.0 212.5h7M352.5 209.0v7M349.0 208.5h7M352.5 205.0v7M349.0 212.5h7M352.5 209.0v7M349.0 241.5h7M352.5 238.0v7M350.0 234.5h7M353.5 231.0v7M350.0 261.5h7M353.5 258.0v7M350.0 230.5h7M353.5 227.0v7M350.0 212.5h7M353.5 209.0v7M351.0 256.5h7M354.5 253.0v7M351.0 256.5h7M354.5 253.0v7M351.0 265.5h7M354.5 262.0v7M351.0 239.5h7M354.5 236.0v7M352.0 255.5h7M355.5 252.0v7M352.0 254.5h7M355.5 251.0v7M352.0 259.5h7M355.5 256.0v7M352.0 252.5h7M355.5 249.0v7M352.0 267.5h7M355.5 264.0v7M353.0 244.5h7M356.5 241.0v7M353.0 225.5h7M356.5 222.0v7M353.0 206.5h7M356.5 203.0v7M353.0 246.5h7M356.5 243.0v7M354.0 230.5h7M357.5 227.0v7M354.0 217.5h7M357.5 214.0v7M354.0 212.5h7M357.5 209.0v7M354.0 219.5h7M357.5 216.0v7M355.0 207.5h7M358.5 204.0v7M355.0 219.5h7M358.5 216.0v7M355.0 219.5h7M358.5 216.0v7M355.0 220.5h7M358.5 217.0v7M355.0 213.5h7M358.5 210.0v7M356.0 228.5h7M359.5 225.0v7M356.0 227.5h7M359.5 224.0v7M356.0 237.5h7M359.5 234.0v7M356.0 244.5h7M359.5 241.0v7M357.0 250.5h7M360.5 247.0v7M357.0 205.5h7M360.5 202.0v7M357.0 214.5h7M360.5 211.0v7M357.0 213.5h7M360.5 210.0v7M358.0 242.5h7M361.5 239.0v7M358.0 213.5h7M361.5 210.0v7M358.0 214.5h7M361.5 211.0v7M358.0 223.5h7M361.5 220.0v7M358.0 226.5h7M361.5 223.0v7M359.0 253.5h7M362.5 250.0v7M359.0 239.5h7M362.5 236.0v7M359.0 258.5h7M362.5 255.0v7M359.0 223.5h7M362.5 220.0v7M360.0 243.5h7M363.5 240.0v7M360.0 251.5h7M363.5 248.0v7M360.0 255.5h7M363.5 252.0v7M361.0 251.5h7M364.5 248.0v7M361.0 256.5h7M364.5 253.0v7M361.0 226.5h7M364.5 223.0v7M361.0 252.5h7M364.5 249.0v7M361.0 237.5h7M364.5 234.0v7M362.0 258.5h7M365.5 255.0v7M362.0 252.5h7M365.5 249.0v7M362.0 210.5h7M365.5 207.0v7M362.0 202.5h7M365.5 199.0v7M363.0 243.5h7M366.5 240.0v7M363.0 240.5h7M366.5 237.0v7M363.0 234.5h7M366.5 231.0v7M363.0 243.5h7M366.5 240.0v7M364.0 234.5h7M367.5 231.0v7M364.0 228.5h7M367.5 225.0v7M364.0 237.5h7M367.5 234.0v7M364.0 242.5h7M367.5 239.0v7M364.0 268.5h7M367.5 265.0v7M365.0 257.5h7M368.5 254.0v7M365.0 280.5h7M368.5 277.0v7M366.0 267.5h7M369.5 264.0v7M366.0 258.5h7M369.5 255.0v7M366.0 248.5h7M369.5 245.0v7M366.0 231.5h7M369.5 228.0v7M367.0 235.5h7M370.5 232.0v7M367.0 227.5h7M370.5 224.0v7M367.0 264.5h7M370.5 261.0v7M367.0 262.5h7M370.5 259.0v7M368.0 245.5h7M371.5 242.0v7M368.0 208.5h7M371.5 205.0v7M368.0 224.5h7M371.5 221.0v7M368.0 225.5h7M371.5 222.0v7M369.0 213.5h7M372.5 210.0v7M369.0 207.5h7M372.5 204.0v7M369.0 223.5h7M372.5 220.0v7M369.0 231.5h7M372.5 228.0v7M370.0 280.5h7M373.5 277.0v7M370.0 262.5h7M373.5 259.0v7M370.0 250.5h7M373.5 247.0v7M370.0 270.5h7M373.5 267.0v7M371.0 259.5h7M374.5 256.0v7M371.0 254.5h7M374.5 251.0v7M371.0 241.5h7M374.5 238.0v7M371.0 230.5h7M374.5 227.0v7M372.0 263.5h7M375.5 260.0v7M372.0 269.5h7M375.5 266.0v7M372.0 259.5h7M375.5 256.0v7M372.0 251.5h7M375.5 248.0v7M373.0 230.5h7M376.5 227.0v7M373.0 254.5h7M376.5 251.0v7M373.0 222.5h7M376.5 219.0v7M373.0 243.5h7M376.5 240.0v7M374.0 262.5h7M377.5 259.0v7M374.0 275.5h7M377.5 272.0v7M374.0 243.5h7M377.5 240.0v7M374.0 262.5h7M377.5 259.0v7M375.0 239.5h7M378.5 236.0v7M375.0 227.5h7M378.5 224.0v7M375.0 210.5h7M378.5 207.0v7M375.0 248.5h7M378.5 245.0v7M375.0 272.5h7M378.5 269.0v7M376.0 248.5h7M379.5 245.0v7M376.0 231.5h7M379.5 228.0v7M376.0 230.5h7M379.5 227.0v7M376.0 278.5h7M379.5 275.0v7M377.0 277.5h7M380.5 274.0v7M377.0 252.5h7M380.5 249.0v7M377.0 213.5h7M380.5 210.0v7M377.0 215.5h7M380.5 212.0v7M378.0 251.5h7M381.5 248.0v7M378.0 277.5h7M381.5 274.0v7M378.0 257.5h7M381.5 254.0v7M378.0 237.5h7M381.5 234.0v7M378.0 230.5h7M381.5 227.0v7M379.0 201.5h7M382.5 198.0v7M379.0 238.5h7M382.5 235.0v7M379.0 220.5h7M382.5 217.0v7M379.0 251.5h7M382.5 248.0v7M380.0 215.5h7M383.5 212.0v7M380.0 205.5h7M383.5 202.0v7M380.0 229.5h7M383.5 226.0v7M380.0 221.5h7M383.5 218.0v7M381.0 247.5h7M384.5 244.0v7M381.0 245.5h7M384.5 242.0v7M381.0 221.5h7M384.5 218.0v7M381.0 244.5h7M384.5 241.0v7M381.0 258.5h7M384.5 255.0v7M382.0 215.5h7M385.5 212.0v7M382.0 261.5h7M385.5 258.0v7M382.0 261.5h7M385.5 258.0v7M382.0 264.5h7M385.5 261.0v7M383.0 220.5h7M386.5 217.0v7M383.0 217.5h7M386.5 214.0v7M383.0 223.5h7M386.5 220.0v7M383.0 253.5h7M386.5 250.0v7M384.0 220.5h7M387.5 217.0v7M384.0 215.5h7M387.5 212.0v7M384.0 212.5h7M387.5 209.0v7M384.0 233.5h7M387.5 230.0v7M385.0 206.5h7M388.5 203.0v7M385.0 213.5h7M388.5 210.0v7M385.0 237.5h7M388.5 234.0v7M385.0 267.5h7M388.5 264.0v7M386.0 266.5h7M389.5 263.0v7M386.0 250.5h7M389.5 247.0v7M386.0 224.5h7M389.5 221.0v7M386.0 216.5h7M389.5 213.0v7M387.0 217.5h7M390.5 214.0v7M387.0 232.5h7M390.5 229.0v7M387.0 236.5h7M390.5 233.0v7M387.0 268.5h7M390.5 265.0v7M387.0 261.5h7M390.5 258.0v7M388.0 232.5h7M391.5 229.0v7M388.0 264.5h7M391.5 261.0v7M388.0 269.5h7M391.5 266.0v7M388.0 258.5h7M391.5 255.0v7M389.0 237.5h7M392.5 234.0v7M389.0 205.5h7M392.5 202.0v7M389.0 204.5h7M392.5 201.0v7M389.0 240.5h7M392.5 237.0v7M390.0 226.5h7M393.5 223.0v7M390.0 210.5h7M393.5 207.0v7M390.0 230.5h7M393.5 227.0v7M390.0 240.5h7M393.5 237.0v7M390.0 253.5h7M393.5 250.0v7M391.0 259.5h7M394.5 256.0v7M391.0 273.5h7M394.5 270.0v7M391.0 244.5h7M394.5 241.0v7M391.0 260.5h7M394.5 257.0v7M392.0 233.5h7M395.5 230.0v7M392.0 251.5h7M395.5 248.0v7M392.0 250.5h7M395.5 247.0v7M392.0 251.5h7M395.5 248.0v7M393.0 263.5h7M396.5 260.0v7M393.0 253.5h7M396.5 250.0v7M393.0 266.5h7M396.5 263.0v7M393.0 269.5h7M396.5 266.0v7M393.0 259.5h7M396.5 256.0v7M394.0 240.5h7M397.5 237.0v7M394.0 227.5h7M397.5 224.0v7M394.0 225.5h7M397.5 222.0v7M394.0 230.5h7M397.5 227.0v7M395.0 235.5h7M398.5 232.0v7M395.0 276.5h7M398.5 273.0v7M395.0 272.5h7M398.5 269.0v7M396.0 243.5h7M399.5 240.0v7M396.0 229.5h7M399.5 226.0v7M396.0 230.5h7M399.5 227.0v7M396.0 240.5h7M399.5 237.0v7M396.0 222.5h7M399.5 219.0v7M397.0 261.5h7M400.5 258.0v7M397.0 242.5h7M400.5 239.0v7M397.0 261.5h7M400.5 258.0v7M397.0 208.5h7M400.5 205.0v7M398.0 225.5h7M401.5 222.0v7M398.0 239.5h7M401.5 236.0v7M398.0 244.5h7M401.5 241.0v7M398.0 254.5h7M401.5 251.0v7M399.0 253.5h7M402.5 250.0v7M399.0 251.5h7M402.5 248.0v7M399.0 211.5h7M402.5 208.0v7M399.0 213.5h7M402.5 210.0v7M400.0 225.5h7M403.5 222.0v7M400.0 239.5h7M403.5 236.0v7M400.0 237.5h7M403.5 234.0v7M400.0 224.5h7M403.5 221.0v7M401.0 223.5h7M404.5 220.0v7M401.0 265.5h7M404.5 262.0v7M401.0 262.5h7M404.5 259.0v7M402.0 273.5h7M405.5 270.0v7M402.0 230.5h7M405.5 227.0v7M402.0 200.5h7M405.5 197.0v7M402.0 212.5h7M405.5 209.0v7M402.0 211.5h7M405.5 208.0v7M403.0 216.5h7M406.5 213.0v7M403.0 233.5h7M406.5 230.0v7M403.0 255.5h7M406.5 252.0v7M404.0 250.5h7M407.5 247.0v7M404.0 251.5h7M407.5 248.0v7M404.0 246.5h7M407.5 243.0v7M404.0 261.5h7M407.5 258.0v7M405.0 280.5h7M408.5 277.0v7M405.0 240.5h7M408.5 237.0v7M405.0 244.5h7M408.5 241.0v7M405.0 238.5h7M408.5 235.0v7M405.0 247.5h7M408.5 244.0v7M406.0 216.5h7M409.5 213.0v7M406.0 219.5h7M409.5 216.0v7M407.0 234.5h7M410.5 231.0v7M407.0 240.5h7M410.5 237.0v7M407.0 212.5h7M410.5 209.0v7M408.0 213.5h7M411.5 210.0v7M408.0 202.5h7M411.5 199.0v7M408.0 205.5h7M411.5 202.0v7M408.0 236.5h7M411.5 233.0v7M408.0 250.5h7M411.5 247.0v7M409.0 246.5h7M412.5 243.0v7M409.0 253.5h7M412.5 250.0v7M409.0 237.5h7M412.5 234.0v7M409.0 241.5h7M412.5 238.0v7M410.0 242.5h7M413.5 239.0v7M410.0 253.5h7M413.5 250.0v7M410.0 246.5h7M413.5 243.0v7M410.0 242.5h7M413.5 239.0v7M411.0 239.5h7M414.5 236.0v7M411.0 229.5h7M414.5 226.0v7M411.0 273.5h7M414.5 270.0v7M411.0 267.5h7M414.5 264.0v7M411.0 262.5h7M414.5 259.0v7M412.0 240.5h7M415.5 237.0v7M412.0 254.5h7M415.5 251.0v7M413.0 262.5h7M416.5 259.0v7M413.0 276.5h7M416.5 273.0v7M413.0 239.5h7M416.5 236.0v7M414.0 225.5h7M417.5 222.0v7M414.0 238.5h7M417.5 235.0v7M414.0 250.5h7M417.5 247.0v7M414.0 227.5h7M417.5 224.0v7M415.0 227.5h7M418.5 224.0v7M415.0 227.5h7M418.5 224.0v7M415.0 236.5h7M418.5 233.0v7M415.0 245.5h7M418.5 242.0v7M416.0 238.5h7M419.5 235.0v7M416.0 217.5h7M419.5 214.0v7M416.0 253.5h7M419.5 250.0v7M416.0 274.5h7M419.5 271.0v7M416.0 257.5h7M419.5 254.0v7M417.0 267.5h7M420.5 264.0v7M417.0 263.5h7M420.5 260.0v7M417.0 264.5h7M420.5 261.0v7M417.0 262.5h7M420.5 259.0v7M418.0 238.5h7M421.5 235.0v7M418.0 251.5h7M421.5 248.0v7M418.0 264.5h7M421.5 261.0v7M418.0 237.5h7M421.5 234.0v7M419.0 273.5h7M422.5 270.0v7M420.0 260.5h7M423.5 257.0v7M420.0 240.5h7M423.5 237.0v7M420.0 227.5h7M423.5 224.0v7M420.0 237.5h7M423.5 234.0v7M421.0 239.5h7M424.5 236.0v7M421.0 253.5h7M424.5 250.0v7M421.0 211.5h7M424.5 208.0v7M421.0 268.5h7M424.5 265.0v7M422.0 268.5h7M425.5 265.0v7M422.0 267.5h7M425.5 264.0v7M422.0 264.5h7M425.5 261.0v7M422.0 259.5h7M425.5 256.0v7M423.0 248.5h7M426.5 245.0v7M423.0 243.5h7M426.5 240.0v7M423.0 228.5h7M426.5 225.0v7M423.0 239.5h7M426.5 236.0v7M424.0 241.5h7M427.5 238.0v7M424.0 248.5h7M427.5 245.0v7M424.0 230.5h7M427.5 227.0v7M424.0 238.5h7M427.5 235.0v7M425.0 242.5h7M428.5 239.0v7M425.0 254.5h7M428.5 251.0v7M425.0 230.5h7M428.5 227.0v7M425.0 244.5h7M428.5 241.0v7M425.0 261.5h7M428.5 258.0v7M426.0 263.5h7M429.5 260.0v7M426.0 247.5h7M429.5 244.0v7M426.0 237.5h7M429.5 234.0v7M426.0 236.5h7M429.5 233.0v7M427.0 253.5h7M430.5 250.0v7M427.0 274.5h7M430.5 271.0v7M427.0 258.5h7M430.5 255.0v7M427.0 239.5h7M430.5 236.0v7M428.0 249.5h7M431.5 246.0v7M428.0 250.5h7M431.5 247.0v7M428.0 231.5h7M431.5 228.0v7M428.0 225.5h7M431.5 222.0v7M428.0 233.5h7M431.5 230.0v7M429.0 251.5h7M432.5 248.0v7M429.0 226.5h7M432.5 223.0v7M429.0 217.5h7M432.5 214.0v7M429.0 240.5h7M432.5 237.0v7M430.0 221.5h7M433.5 218.0v7M430.0 234.5h7M433.5 231.0v7M430.0 246.5h7M433.5 243.0v7M430.0 243.5h7M433.5 240.0v7M431.0 226.5h7M434.5 223.0v7M431.0 234.5h7M434.5 231.0v7M431.0 234.5h7M434.5 231.0v7M431.0 245.5h7M434.5 242.0v7M431.0 230.5h7M434.5 227.0v7M432.0 257.5h7M435.5 254.0v7M432.0 222.5h7M435.5 219.0v7M432.0 230.5h7M435.5 227.0v7M432.0 238.5h7M435.5 235.0v7M433.0 259.5h7M436.5 256.0v7M433.0 241.5h7M436.5 238.0v7M433.0 253.5h7M436.5 250.0v7M433.0 239.5h7M436.5 236.0v7M434.0 255.5h7M437.5 252.0v7M434.0 278.5h7M437.5 275.0v7M434.0 256.5h7M437.5 253.0v7M434.0 259.5h7M437.5 256.0v7M434.0 236.5h7M437.5 233.0v7M435.0 258.5h7M438.5 255.0v7M435.0 272.5h7M438.5 269.0v7M435.0 260.5h7M438.5 257.0v7M435.0 233.5h7M438.5 230.0v7M436.0 246.5h7M439.5 243.0v7M436.0 266.5h7M439.5 263.0v7M436.0 274.5h7M439.5 271.0v7M436.0 273.5h7M439.5 270.0v7M437.0 229.5h7M440.5 226.0v7M437.0 226.5h7M440.5 223.0v7M437.0 261.5h7M440.5 258.0v7M437.0 232.5h7M440.5 229.0v7M437.0 259.5h7M440.5 256.0v7M438.0 277.5h7M441.5 274.0v7M438.0 280.5h7M441.5 277.0v7M438.0 259.5h7M441.5 256.0v7M439.0 231.5h7M442.5 228.0v7M439.0 237.5h7M442.5 234.0v7M439.0 238.5h7M442.5 235.0v7M439.0 241.5h7M442.5 238.0v7M440.0 256.5h7M443.5 253.0v7M440.0 249.5h7M443.5 246.0v7M440.0 251.5h7M443.5 248.0v7M440.0 256.5h7M443.5 253.0v7M440.0 251.5h7M443.5 248.0v7M441.0 279.5h7M444.5 276.0v7M441.0 271.5h7M444.5 268.0v7M441.0 261.5h7M444.5 258.0v7M441.0 250.5h7M444.5 247.0v7M442.0 238.5h7M445.5 235.0v7M442.0 265.5h7M445.5 262.0v7M442.0 259.5h7M445.5 256.0v7M442.0 235.5h7M445.5 232.0v7M443.0 231.5h7M446.5 228.0v7M443.0 237.5h7M446.5 234.0v7M443.0 235.5h7M446.5 232.0v7M443.0 260.5h7M446.5 257.0v7M443.0 234.5h7M446.5 231.0v7M444.0 249.5h7M447.5 246.0v7M444.0 250.5h7M447.5 247.0v7M444.0 229.5h7M447.5 226.0v7M444.0 239.5h7M447.5 236.0v7M445.0 241.5h7M448.5 238.0v7M445.0 253.5h7M448.5 250.0v7M445.0 242.5h7M448.5 239.0v7M445.0 250.5h7M448.5 247.0v7M446.0 221.5h7M449.5 218.0v7M446.0 217.5h7M449.5 214.0v7M446.0 245.5h7M449.5 242.0v7M446.0 264.5h7M449.5 261.0v7M446.0 256.5h7M449.5 253.0v7M447.0 241.5h7M450.5 238.0v7M447.0 263.5h7M450.5 260.0v7M447.0 221.5h7M450.5 218.0v7M447.0 221.5h7M450.5 218.0v7M448.0 245.5h7M451.5 242.0v7M448.0 258.5h7M451.5 255.0v7M448.0 235.5h7M451.5 232.0v7M448.0 211.5h7M451.5 208.0v7M449.0 253.5h7M452.5 250.0v7M449.0 253.5h7M452.5 250.0v7M449.0 235.5h7M452.5 232.0v7M449.0 242.5h7M452.5 239.0v7M449.0 261.5h7M452.5 258.0v7M450.0 212.5h7M453.5 209.0v7M450.0 248.5h7M453.5 245.0v7M450.0 261.5h7M453.5 258.0v7M450.0 220.5h7M453.5 217.0v7M451.0 246.5h7M454.5 243.0v7M451.0 218.5h7M454.5 215.0v7M451.0 252.5h7M454.5 249.0v7M451.0 257.5h7M454.5 254.0v7M452.0 259.5h7M455.5 256.0v7M452.0 253.5h7M455.5 250.0v7M452.0 268.5h7M455.5 265.0v7M452.0 247.5h7M455.5 244.0v7M453.0 236.5h7M456.5 233.0v7M453.0 236.5h7M456.5 233.0v7M453.0 240.5h7M456.5 237.0v7M453.0 227.5h7M456.5 224.0v7M454.0 245.5h7M457.5 242.0v7M454.0 256.5h7M457.5 253.0v7M454.0 253.5h7M457.5 250.0v7M454.0 278.5h7M457.5 275.0v7M455.0 258.5h7M458.5 255.0v7M455.0 274.5h7M458.5 271.0v7M455.0 252.5h7M458.5 249.0v7M455.0 263.5h7M458.5 260.0v7M455.0 224.5h7M458.5 221.0v7M456.0 239.5h7M459.5 236.0v7M456.0 240.5h7M459.5 237.0v7M456.0 236.5h7M459.5 233.0v7M456.0 232.5h7M459.5 229.0v7M457.0 234.5h7M460.5 231.0v7M457.0 229.5h7M460.5 226.0v7M457.0 205.5h7M460.5 202.0v7M457.0 216.5h7M460.5 213.0v7M458.0 223.5h7M461.5 220.0v7M458.0 227.5h7M461.5 224.0v7M458.0 220.5h7M461.5 217.0v7M458.0 232.5h7M461.5 229.0v7M458.0 253.5h7M461.5 250.0v7M459.0 246.5h7M462.5 243.0v7M459.0 239.5h7M462.5 236.0v7M459.0 267.5h7M462.5 264.0v7M459.0 273.5h7M462.5 270.0v7M460.0 276.5h7M463.5 273.0v7M460.0 260.5h7M463.5 257.0v7M460.0 251.5h7M463.5 248.0v7M461.0 269.5h7M464.5 266.0v7M461.0 249.5h7M464.5 246.0v7M461.0 246.5h7M464.5 243.0v7M461.0 254.5h7M464.5 251.0v7M461.0 258.5h7M464.5 255.0v7M462.0 248.5h7M465.5 245.0v7M462.0 265.5h7M465.5 262.0v7M462.0 253.5h7M465.5 250.0v7M462.0 263.5h7M465.5 260.0v7M463.0 273.5h7M466.5 270.0v7M463.0 272.5h7M466.5 269.0v7M463.0 272.5h7M466.5 269.0v7M463.0 241.5h7M466.5 238.0v7M463.0 223.5h7M466.5 220.0v7M464.0 226.5h7M467.5 223.0v7M464.0 244.5h7M467.5 241.0v7M464.0 271.5h7M467.5 268.0v7M464.0 239.5h7M467.5 236.0v7M465.0 249.5h7M468.5 246.0v7M465.0 235.5h7M468.5 232.0v7M465.0 230.5h7M468.5 227.0v7M465.0 234.5h7M468.5 231.0v7M466.0 253.5h7M469.5 250.0v7M466.0 254.5h7M469.5 251.0v7M466.0 271.5h7M469.5 268.0v7M466.0 243.5h7M469.5 240.0v7M466.0 261.5h7M469.5 258.0v7M467.0 270.5h7M470.5 267.0v7M467.0 261.5h7M470.5 258.0v7M467.0 263.5h7M470.5 260.0v7M467.0 246.5h7M470.5 243.0v7M468.0 229.5h7M471.5 226.0v7M468.0 232.5h7M471.5 229.0v7M468.0 230.5h7M471.5 227.0v7M469.0 260.5h7M472.5 257.0v7M469.0 269.5h7M472.5 266.0v7M469.0 264.5h7M472.5 261.0v7M469.0 269.5h7M472.5 266.0v7M470.0 245.5h7M473.5 242.0v7M470.0 263.5h7M473.5 260.0v7M470.0 262.5h7M473.5 259.0v7M470.0 230.5h7M473.5 227.0v7M471.0 249.5h7M474.5 246.0v7M471.0 258.5h7M474.5 255.0v7M471.0 261.5h7M474.5 258.0v7M471.0 280.5h7M474.5 277.0v7M472.0 258.5h7M475.5 255.0v7M472.0 262.5h7M475.5 259.0v7M472.0 268.5h7M475.5 265.0v7M472.0 243.5h7M475.5 240.0v7M472.0 266.5h7M475.5 263.0v7M473.0 233.5h7M476.5 230.0v7M473.0 220.5h7M476.5 217.0v7M473.0 242.5h7M476.5 239.0v7M473.0 228.5h7M476.5 225.0v7M474.0 236.5h7M477.5 233.0v7M474.0 216.5h7M477.5 213.0v7M474.0 233.5h7M477.5 230.0v7M474.0 223.5h7M477.5 220.0v7M475.0 241.5h7M478.5 238.0v7M475.0 220.5h7M478.5 217.0v7M475.0 241.5h7M478.5 238.0v7M475.0 240.5h7M478.5 237.0v7M475.0 245.5h7M478.5 242.0v7M476.0 246.5h7M479.5 243.0v7M476.0 249.5h7M479.5 246.0v7M476.0 228.5h7M479.5 225.0v7M476.0 201.5h7M479.5 198.0v7M477.0 223.5h7M480.5 220.0v7M477.0 221.5h7M480.5 218.0v7M477.0 227.5h7M480.5 224.0v7M477.0 245.5h7M480.5 242.0v7M478.0 215.5h7M481.5 212.0v7M478.0 219.5h7M481.5 216.0v7M478.0 224.5h7M481.5 221.0v7M478.0 219.5h7M481.5 216.0v7M478.0 239.5h7M481.5 236.0v7M479.0 241.5h7M482.5 238.0v7M479.0 232.5h7M482.5 229.0v7M479.0 224.5h7M482.5 221.0v7M479.0 249.5h7M482.5 246.0v7M480.0 238.5h7M483.5 235.0v7M480.0 253.5h7M483.5 250.0v7M480.0 259.5h7M483.5 256.0v7M480.0 223.5h7M483.5 220.0v7M481.0 218.5h7M484.5 215.0v7M481.0 234.5h7M484.5 231.0v7M481.0 246.5h7M484.5 243.0v7M481.0 261.5h7M484.5 258.0v7M481.0 268.5h7M484.5 265.0v7M482.0 275.5h7M485.5 272.0v7M482.0 256.5h7M485.5 253.0v7M482.0 249.5h7M485.5 246.0v7M482.0 262.5h7M485.5 259.0v7M483.0 248.5h7M486.5 245.0v7M483.0 266.5h7M486.5 263.0v7M483.0 232.5h7M486.5 229.0v7M483.0 250.5h7M486.5 247.0v7M484.0 247.5h7M487.5 244.0v7M484.0 216.5h7M487.5 213.0v7M484.0 248.5h7M487.5 245.0v7M484.0 254.5h7M487.5 251.0v7M484.0 252.5h7M487.5 249.0v7M485.0 233.5h7M488.5 230.0v7M485.0 233.5h7M488.5 230.0v7M485.0 267.5h7M488.5 264.0v7M485.0 244.5h7M488.5 241.0v7M486.0 208.5h7M489.5 205.0v7M486.0 210.5h7M489.5 207.0v7M486.0 226.5h7M489.5 223.0v7M487.0 231.5h7M490.5 228.0v7M487.0 225.5h7M490.5 222.0v7M487.0 224.5h7M490.5 221.0v7M487.0 253.5h7M490.5 250.0v7M487.0 228.5h7M490.5 225.0v7M488.0 271.5h7M491.5 268.0v7M488.0 250.5h7M491.5 247.0v7M488.0 232.5h7M491.5 229.0v7M488.0 253.5h7M491.5 250.0v7M489.0 261.5h7M492.5 258.0v7M489.0 238.5h7M492.5 235.0v7M489.0 256.5h7M492.5 253.0v7M489.0 223.5h7M492.5 220.0v7M490.0 221.5h7M493.5 218.0v7M490.0 253.5h7M493.5 250.0v7M490.0 247.5h7M493.5 244.0v7M490.0 227.5h7M493.5 224.0v7M490.0 246.5h7M493.5 243.0v7M491.0 263.5h7M494.5 260.0v7M491.0 256.5h7M494.5 253.0v7M491.0 223.5h7M494.5 220.0v7M491.0 231.5h7M494.5 228.0v7M492.0 246.5h7M495.5 243.0v7M492.0 261.5h7M495.5 258.0v7M492.0 264.5h7M495.5 261.0v7M493.0 248.5h7M496.5 245.0v7M493.0 248.5h7M496.5 245.0v7M493.0 269.5h7M496.5 266.0v7M493.0 243.5h7M496.5 240.0v7M493.0 268.5h7M496.5 265.0v7M494.0 215.5h7M497.5 212.0v7M494.0 244.5h7M497.5 241.0v7M494.0 236.5h7M497.5 233.0v7M494.0 250.5h7M497.5 247.0v7M495.0 262.5h7M498.5 259.0v7M495.0 236.5h7M498.5 233.0v7M495.0 241.5h7M498.5 238.0v7M495.0 249.5h7M498.5 246.0v7M496.0 259.5h7M499.5 256.0v7M496.0 239.5h7M499.5 236.0v7M496.0 228.5h7M499.5 225.0v7M496.0 210.5h7M499.5 207.0v7M496.0 270.5h7M499.5 267.0v7M497.0 257.5h7M500.5 254.0v7M497.0 249.5h7M500.5 246.0v7M497.0 225.5h7M500.5 222.0v7M497.0 252.5h7M500.5 249.0v7M498.0 242.5h7M501.5 239.0v7M498.0 270.5h7M501.5 267.0v7M498.0 273.5h7M501.5 270.0v7M498.0 262.5h7M501.5 259.0v7M499.0 268.5h7M502.5 265.0v7M499.0 240.5h7M502.5 237.0v7M499.0 239.5h7M502.5 236.0v7M499.0 235.5h7M502.5 232.0v7M499.0 222.5h7M502.5 219.0v7M500.0 236.5h7M503.5 233.0v7M500.0 240.5h7M503.5 237.0v7M500.0 269.5h7M503.5 266.0v7M500.0 207.5h7M503.5 204.0v7M501.0 217.5h7M504.5 214.0v7M501.0 219.5h7M504.5 216.0v7M501.0 226.5h7M504.5 223.0v7M501.0 244.5h7M504.5 241.0v7M502.0 253.5h7M505.5 250.0v7M502.0 252.5h7M505.5 249.0v7M502.0 243.5h7M505.5 240.0v7M502.0 254.5h7M505.5 251.0v7M502.0 258.5h7M505.5 255.0v7M503.0 224.5h7M506.5 221.0v7M503.0 233.5h7M506.5 230.0v7M503.0 219.5h7M506.5 216.0v7M503.0 216.5h7M506.5 213.0v7M504.0 235.5h7M507.5 232.0v7M504.0 243.5h7M507.5 240.0v7M504.0 248.5h7M507.5 245.0v7M504.0 235.5h7M507.5 232.0v7M505.0 239.5h7M508.5 236.0v7M505.0 230.5h7M508.5 227.0v7M505.0 245.5h7M508.5 242.0v7M505.0 259.5h7M508.5 256.0v7M506.0 255.5h7M509.5 252.0v7M506.0 245.5h7M509.5 242.0v7M506.0 232.5h7M509.5 229.0v7M507.0 245.5h7M510.5 242.0v7M507.0 280.5h7M510.5 277.0v7M507.0 276.5h7M510.5 273.0v7M507.0 228.5h7M510.5 225.0v7M508.0 219.5h7M511.5 216.0v7M508.0 214.5h7M511.5 211.0v7M508.0 239.5h7M511.5 236.0v7M508.0 244.5h7M511.5 241.0v7M508.0 252.5h7M511.5 249.0v7M509.0 280.5h7M512.5 277.0v7M509.0 251.5h7M512.5 248.0v7M509.0 237.5h7M512.5 234.0v7M509.0 275.5h7M512.5 272.0v7M510.0 269.5h7M513.5 266.0v7M510.0 246.5h7M513.5 243.0v7M510.0 216.5h7M513.5 213.0v7M510.0 210.5h7M513.5 207.0v7M511.0 221.5h7M514.5 218.0v7M511.0 236.5h7M514.5 233.0v7M511.0 259.5h7M514.5 256.0v7M511.0 252.5h7M514.5 249.0v7M512.0 240.5h7M515.5 237.0v7M512.0 233.5h7M515.5 230.0v7M512.0 272.5h7M515.5 269.0v7M512.0 233.5h7M515.5 230.0v7M513.0 244.5h7M516.5 241.0v7M513.0 247.5h7M516.5 244.0v7M513.0 259.5h7M516.5 256.0v7M513.0 247.5h7M516.5 244.0v7M513.0 257.5h7M516.5 254.0v7M514.0 267.5h7M517.5 264.0v7M514.0 256.5h7M517.5 253.0v7M514.0 245.5h7M517.5 242.0v7M514.0 244.5h7M517.5 241.0v7M515.0 232.5h7M518.5 229.0v7M515.0 237.5h7M518.5 234.0v7M515.0 239.5h7M518.5 236.0v7M515.0 247.5h7M518.5 244.0v7M516.0 271.5h7M519.5 268.0v7M516.0 259.5h7M519.5 256.0v7M516.0 265.5h7M519.5 262.0v7M516.0 262.5h7M519.5 259.0v7M517.0 269.5h7M520.5 266.0v7M517.0 260.5h7M520.5 257.0v7M517.0 259.5h7M520.5 256.0v7M517.0 246.5h7M520.5 243.0v7M518.0 236.5h7M521.5 233.0v7M518.0 257.5h7M521.5 254.0v7M518.0 275.5h7M521.5 272.0v7M518.0 273.5h7M521.5 270.0v7M519.0 269.5h7M522.5 266.0v7M519.0 264.5h7M522.5 261.0v7M519.0 249.5h7M522.5 246.0v7M519.0 222.5h7M522.5 219.0v7M519.0 246.5h7M522.5 243.0v7M520.0 251.5h7M523.5 248.0v7M520.0 242.5h7M523.5 239.0v7M520.0 231.5h7M523.5 228.0v7M520.0 261.5h7M523.5 258.0v7M521.0 227.5h7M524.5 224.0v7M521.0 267.5h7M524.5 264.0v7M521.0 269.5h7M524.5 266.0v7M522.0 263.5h7M525.5 260.0v7M522.0 256.5h7M525.5 253.0v7M522.0 245.5h7M525.5 242.0v7M522.0 249.5h7M525.5 246.0v7M522.0 246.5h7M525.5 243.0v7M523.0 237.5h7M526.5 234.0v7M523.0 261.5h7M526.5 258.0v7M523.0 242.5h7M526.5 239.0v7M523.0 238.5h7M526.5 235.0v7M524.0 253.5h7M527.5 250.0v7M524.0 243.5h7M527.5 240.0v7M524.0 239.5h7M527.5 236.0v7M524.0 250.5h7M527.5 247.0v7M525.0 244.5h7M528.5 241.0v7M525.0 228.5h7M528.5 225.0v7M525.0 237.5h7M528.5 234.0v7M525.0 240.5h7M528.5 237.0v7M525.0 273.5h7M528.5 270.0v7M526.0 243.5h7M529.5 240.0v7M526.0 263.5h7M529.5 260.0v7M526.0 243.5h7M529.5 240.0v7M526.0 241.5h7M529.5 238.0v7M527.0 240.5h7M530.5 237.0v7M527.0 249.5h7M530.5 246.0v7M527.0 265.5h7M530.5 262.0v7M528.0 258.5h7M531.5 255.0v7M528.0 276.5h7M531.5 273.0v7M528.0 279.5h7M531.5 276.0v7M528.0 278.5h7M531.5 275.0v7M528.0 251.5h7M531.5 248.0v7M529.0 266.5h7M532.5 263.0v7M529.0 256.5h7M532.5 253.0v7M529.0 259.5h7M532.5 256.0v7M529.0 250.5h7M532.5 247.0v7M530.0 261.5h7M533.5 258.0v7M530.0 274.5h7M533.5 271.0v7M530.0 280.5h7M533.5 277.0v7M530.0 262.5h7M533.5 259.0v7M531.0 273.5h7M534.5 270.0v7M531.0 252.5h7M534.5 249.0v7M531.0 275.5h7M534.5 272.0v7M531.0 241.5h7M534.5 238.0v7M532.0 254.5h7M535.5 251.0v7M532.0 263.5h7M535.5 260.0v7M532.0 280.5h7M535.5 277.0v7M532.0 270.5h7M535.5 267.0v7M533.0 252.5h7M536.5 249.0v7M533.0 239.5h7M536.5 236.0v7M533.0 225.5h7M536.5 222.0v7M533.0 249.5h7M536.5 246.0v7M534.0 246.5h7M537.5 243.0v7M534.0 237.5h7M537.5 234.0v7M534.0 252.5h7M537.5 249.0v7M534.0 239.5h7M537.5 236.0v7M534.0 238.5h7M537.5 235.0v7M535.0 237.5h7M538.5 234.0v7M535.0 271.5h7M538.5 268.0v7M535.0 265.5h7M538.5 262.0v7M536.0 233.5h7M539.5 230.0v7M536.0 246.5h7M539.5 243.0v7M536.0 249.5h7M539.5 246.0v7M536.0 255.5h7M539.5 252.0v7M537.0 263.5h7M540.5 260.0v7M537.0 251.5h7M540.5 248.0v7M537.0 266.5h7M540.5 263.0v7M537.0 272.5h7M540.5 269.0v7M537.0 265.5h7M540.5 262.0v7M538.0 250.5h7M541.5 247.0v7M538.0 243.5h7M541.5 240.0v7M538.0 258.5h7M541.5 255.0v7M538.0 237.5h7M541.5 234.0v7M539.0 241.5h7M542.5 238.0v7M539.0 234.5h7M542.5 231.0v7M539.0 221.5h7M542.5 218.0v7M539.0 245.5h7M542.5 242.0v7M540.0 247.5h7M543.5 244.0v7M540.0 249.5h7M543.5 246.0v7M540.0 265.5h7M543.5 262.0v7M540.0 234.5h7M543.5 231.0v7M540.0 241.5h7M543.5 238.0v7M541.0 250.5h7M544.5 247.0v7M541.0 265.5h7M544.5 262.0v7M541.0 240.5h7M544.5 237.0v7M541.0 257.5h7M544.5 254.0v7M542.0 258.5h7M545.5 255.0v7M542.0 276.5h7M545.5 273.0v7M542.0 275.5h7M545.5 272.0v7M543.0 275.5h7M546.5 272.0v7M543.0 256.5h7M546.5 253.0v7M543.0 247.5h7M546.5 244.0v7M543.0 234.5h7M546.5 231.0v7M544.0 242.5h7M547.5 239.0v7M544.0 218.5h7M547.5 215.0v7M544.0 233.5h7M547.5 230.0v7M544.0 248.5h7M547.5 245.0v7M545.0 266.5h7M548.5 263.0v7M545.0 252.5h7M548.5 249.0v7M545.0 274.5h7M548.5 271.0v7M545.0 251.5h7M548.5 248.0v7M546.0 249.5h7M549.5 246.0v7M546.0 221.5h7M549.5 218.0v7M546.0 224.5h7M549.5 221.0v7M546.0 225.5h7M549.5 222.0v7M546.0 261.5h7M549.5 258.0v7M547.0 265.5h7M550.5 262.0v7M547.0 240.5h7M550.5 237.0v7M547.0 253.5h7M550.5 250.0v7M547.0 260.5h7M550.5 257.0v7M548.0 251.5h7M551.5 248.0v7M548.0 251.5h7M551.5 248.0v7M548.0 246.5h7M551.5 243.0v7M548.0 240.5h7M551.5 237.0v7M549.0 219.5h7M552.5 216.0v7M549.0 233.5h7M552.5 230.0v7M549.0 262.5h7M552.5 259.0v7M549.0 279.5h7M552.5 276.0v7M549.0 261.5h7M552.5 258.0v7M550.0 244.5h7M553.5 241.0v7M550.0 244.5h7M553.5 241.0v7M550.0 262.5h7M553.5 259.0v7M550.0 262.5h7M553.5 259.0v7M551.0 247.5h7M554.5 244.0v7M551.0 255.5h7M554.5 252.0v7M551.0 249.5h7M554.5 246.0v7M551.0 259.5h7M554.5 256.0v7M552.0 248.5h7M555.5 245.0v7M552.0 228.5h7M555.5 225.0v7M552.0 240.5h7M555.5 237.0v7M552.0 257.5h7M555.5 254.0v7M552.0 237.5h7M555.5 234.0v7M553.0 242.5h7M556.5 239.0v7M553.0 261.5h7M556.5 258.0v7M553.0 249.5h7M556.5 246.0v7M553.0 240.5h7M556.5 237.0v7M554.0 278.5h7M557.5 275.0v7M554.0 278.5h7M557.5 275.0v7M554.0 280.5h7M557.5 277.0v7M554.0 250.5h7M557.5 247.0v7M555.0 277.5h7M558.5 274.0v7M555.0 238.5h7M558.5 235.0v7M555.0 237.5h7M558.5 234.0v7M555.0 255.5h7M558.5 252.0v7M555.0 274.5h7M558.5 271.0v7M556.0 248.5h7M559.5 245.0v7M556.0 239.5h7M559.5 236.0v7M556.0 248.5h7M559.5 245.0v7M556.0 221.5h7M559.5 218.0v7M557.0 245.5h7M560.5 242.0v7M557.0 257.5h7M560.5 254.0v7M557.0 247.5h7M560.5 244.0v7M557.0 258.5h7M560.5 255.0v7M557.0 267.5h7M560.5 264.0v7M558.0 264.5h7M561.5 261.0v7M571 57.5h7M574.5 54v7" stroke="#9400d3" stroke-width="1" fill="none"/>
<g stroke="#000" stroke-width="1" fill="none" shape-rendering="crispEdges">
<rect x="100.5" y="45.5" width="512.0" height="386.0"/>
<path d="M151.5 431.5v-4.5M151.5 45.5v4.5"/>
<path d="M202.5 431.5v-4.5M202.5 45.5v4.5"/>
<path d="M254.5 431.5v-4.5M254.5 45.5v4.5"/>
<path d="M305.5 431.5v-4.5M305.5 45.5v4.5"/>
<path d="M356.5 431.5v-4.5M356.5 45.5v4.5"/>
<path d="M407.5 431.5v-4.5M407.5 45.5v4.5"/>
<path d="M458.5 431.5v-4.5M458.5 45.5v4.5"/>
<path d="M510.5 431.5v-4.5M510.5 45.5v4.5"/>
<path d="M561.5 431.5v-4.5M561.5 45.5v4.5"/>
<path d="M100.5 371.5h4.5M612.5 371.5h-4.5"/>
<path d="M100.5 311.5h4.5M612.5 311.5h-4.5"/>
<path d="M100.5 251.5h4.5M612.5 251.5h-4.5"/>
<path d="M100.5 191.5h4.5M612.5 191.5h-4.5"/>
<path d="M100.5 130.5h4.5M612.5 130.5h-4.5"/>
<path d="M100.5 70.5h4.5M612.5 70.5h-4.5"/>
</g>
<g font-family="'Liberation Sans', sans-serif" font-size="16" fill="#000">
<text x="101.60" y="450" text-anchor="middle">0</text>
<text x="152.80" y="450" text-anchor="middle">200</text>
<text x="204.00" y="450" text-anchor="middle">400</text>
<text x="255.20" y="450" text-anchor="middle">600</text>
<text x="306.40" y="450" text-anchor="middle">800</text>
<text x="357.60" y="450" text-anchor="middle">1000</text>
<text x="408.80" y="450" text-anchor="middle">1200</text>
<text x="460.00" y="450" text-anchor="middle">1400</text>
<text x="511.20" y="450" text-anchor="middle">1600</text>
<text x="562.40" y="450" text-anchor="middle">1800</text>
<text x="613.60" y="450" text-anchor="middle">2000</text>
<text x="90.7" y="435.0" text-anchor="end">0</text>
<text x="90.7" y="374.9" text-anchor="end">20000</text>
<text x="90.7" y="314.8" text-anchor="end">40000</text>
<text x="90.7" y="254.7" text-anchor="end">60000</text>
<text x="90.7" y="194.6" text-anchor="end">80000</text>
<text x="90.7" y="134.5" text-anchor="end">100000</text>
<text x="90.7" y="74.4" text-anchor="end">120000</text>
<text x="355.5" y="26" text-anchor="middle">maxDeleteUsecs vs Time for qr500.L3</text>
<text x="356" y="472" text-anchor="middle">Time(s)</text>
<text transform="translate(18 237.5) rotate(-90)" text-anchor="middle">maxDeleteUsecs</text>
<text x="545" y="61" text-anchor="end">ma100434<tspan font-size="12.8" dy="4.8">r</tspan><tspan dy="-4.8">el</tspan><tspan font-size="12.8" dy="4.8">w</tspan><tspan dy="-4.8">ithdbg.cz12a</tspan><tspan font-size="12.8" dy="4.8">c</tspan><tspan dy="-4.8">24r64</tspan></text>
</g>
</svg></body></html>
